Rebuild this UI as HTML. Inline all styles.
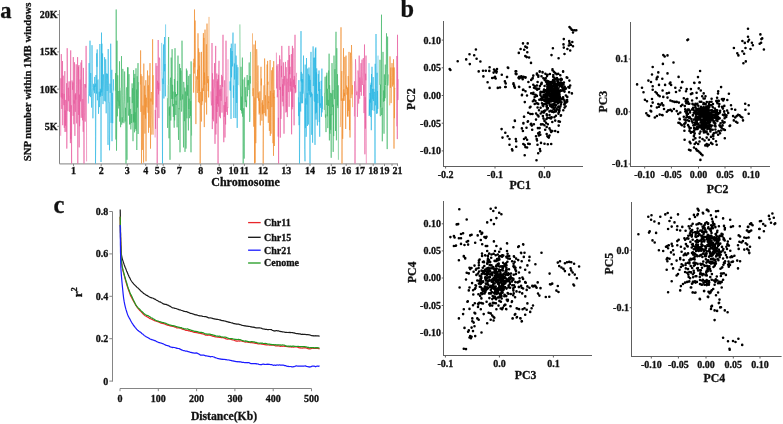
<!DOCTYPE html>
<html><head><meta charset="utf-8"><style>
html,body{margin:0;padding:0;background:#fff;}
svg{display:block;will-change:transform;}
text{font-family:"Liberation Serif",serif;font-weight:bold;fill:#111;stroke:#111;stroke-width:0.3px;}
</style></head><body>
<svg width="783" height="424" viewBox="0 0 783 424">
<text x="0.2" y="18.3" font-size="22.5" text-anchor="start">a</text>
<text x="31.5" y="161.2" font-size="10.75" text-anchor="start" transform="rotate(-90 31.5 161.2)">SNP number within 1MB windows</text>
<line x1="59.5" y1="10" x2="59.5" y2="163.9" stroke="#858585" stroke-width="1"/>
<line x1="59.5" y1="163.9" x2="398" y2="163.9" stroke="#9a9a9a" stroke-width="1.2"/>
<line x1="57.2" y1="14.699999999999989" x2="59.5" y2="14.699999999999989" stroke="#858585" stroke-width="1"/>
<text x="57.6" y="18.099999999999987" font-size="10" text-anchor="end">20K</text>
<line x1="57.2" y1="51.89999999999999" x2="59.5" y2="51.89999999999999" stroke="#858585" stroke-width="1"/>
<text x="57.6" y="55.29999999999999" font-size="10" text-anchor="end">15K</text>
<line x1="57.2" y1="89.1" x2="59.5" y2="89.1" stroke="#858585" stroke-width="1"/>
<text x="57.6" y="92.5" font-size="10" text-anchor="end">10K</text>
<line x1="57.2" y1="126.3" x2="59.5" y2="126.3" stroke="#858585" stroke-width="1"/>
<text x="57.6" y="129.7" font-size="10" text-anchor="end">5K</text>
<path d="M60.7 135.8 L60.9 78.3 L61.2 97.3 L61.3 54.1 L61.6 104.6 L61.8 108.9 L62.1 93.1 L62.3 98.8 L62.5 61.0 L62.7 125.2 L63.0 81.7 L63.2 75.7 L63.4 88.2 L63.6 98.8 L63.9 105.2 L64.1 93.8 L64.3 127.9 L64.5 99.1 L64.8 71.1 L65.0 131.9 L65.2 110.5 L65.4 125.7 L65.7 99.9 L65.9 110.0 L66.1 131.8 L66.3 120.2 L66.6 83.2 L66.8 148.6 L67.0 128.0 L67.2 48.2 L67.5 87.3 L67.7 100.1 L67.9 111.2 L68.1 96.5 L68.4 87.7 L68.6 101.2 L68.8 91.5 L69.0 81.4 L69.3 98.2 L69.5 111.8 L69.7 97.2 L69.9 95.1 L70.2 81.4 L70.4 143.1 L70.7 50.4 L70.8 139.2 L71.1 130.5 L71.3 105.3 L71.6 163.5 L71.7 109.3 L72.0 80.5 L72.2 82.1 L72.4 85.4 L72.6 89.8 L72.9 82.3 L73.1 115.8 L73.3 57.1 L73.5 88.8 L73.8 124.2 L74.0 100.3 L74.2 103.6 L74.5 62.3 L74.7 103.5 L74.9 135.9 L75.1 94.5 L75.3 111.8 L75.6 93.3 L75.8 99.6 L76.0 91.9 L76.2 64.3 L76.5 84.3 L76.7 123.4 L76.9 99.0 L77.1 89.6 L77.4 77.5 L77.6 57.1 L77.8 163.5 L78.0 89.9 L78.3 89.9 L78.5 66.6 L78.7 114.9 L78.9 65.0 L79.2 147.4 L79.4 94.6 L79.6 126.2 L79.8 118.9 L80.1 79.5 L80.3 85.0 L80.5 101.4 L80.7 76.6 L81.0 62.5 L81.2 117.8 L81.4 113.0 L81.7 60.1 L81.9 73.2 L82.1 86.4 L82.3 107.8 L82.5 120.3 L82.8 99.1 L83.0 102.6 L83.2 131.8 L83.4 67.9 L83.7 94.0 L84.0 163.5 L84.1 122.9 L84.3 120.3 L84.6 112.2 L84.8 84.0 L85.0 98.6 L85.2 121.6 L85.5 84.4 L85.7 87.5 L85.9 63.9 L86.1 45.9 L86.4 70.6 L86.6 161.4" fill="none" stroke="#e8589c" stroke-width="0.6" stroke-opacity="1" stroke-linejoin="miter"/>
<path d="M88.4 103.5 L88.6 93.8 L88.9 82.7 L89.1 63.1 L89.3 74.2 L89.5 95.8 L89.8 85.0 L90.0 40.7 L90.2 82.6 L90.4 97.1 L90.7 73.0 L90.9 80.5 L91.1 88.4 L91.3 91.4 L91.6 107.6 L91.8 79.9 L92.0 45.2 L92.2 63.8 L92.5 87.5 L92.7 96.6 L92.9 118.3 L93.1 107.7 L93.4 92.5 L93.6 83.8 L93.8 87.8 L94.0 90.4 L94.2 85.5 L94.5 93.2 L94.7 76.9 L94.9 86.3 L95.2 86.8 L95.4 83.6 L95.5 163.5 L95.8 136.4 L96.0 75.0 L96.3 83.4 L96.5 93.6 L96.7 53.3 L97.0 66.8 L97.2 49.4 L97.4 100.3 L97.6 90.5 L97.8 80.2 L98.1 79.6 L98.3 95.7 L98.5 113.8 L98.8 100.5 L99.0 99.1 L99.2 91.8 L99.4 107.1 L99.7 90.6 L99.9 44.0 L100.1 96.9 L100.3 88.8 L100.5 95.4 L100.8 90.4 L101.0 162.0 L101.2 113.1 L101.5 32.6 L101.7 92.4 L101.9 43.7 L102.1 96.0 L102.3 90.8 L102.6 53.4 L102.8 92.5 L103.0 104.1 L103.2 95.5 L103.5 74.4 L103.7 81.3 L103.9 87.7 L104.2 100.9 L104.4 91.5 L104.6 57.2 L104.8 66.6 L105.0 70.5 L105.3 101.5 L105.5 83.1 L105.7 59.3 L105.9 70.7 L106.2 113.3 L106.4 73.5 L106.6 75.7 L106.8 85.5 L107.1 91.0 L107.3 87.3 L107.5 73.8 L107.8 80.5 L108.0 144.9 L108.2 49.1 L108.4 85.5 L108.6 91.4 L108.9 102.3 L109.1 102.1 L109.3 103.0 L109.5 150.3 L109.8 132.9 L110.0 83.7 L110.2 92.8 L110.4 78.5 L110.7 43.7 L111.0 70.5 L111.1 122.9 L111.3 102.8 L111.6 87.8 L111.8 69.8 L112.0 141.2 L112.2 93.0 L112.5 100.8 L112.7 123.2 L112.9 92.3 L113.1 91.8 L113.4 79.3 L113.6 90.5" fill="none" stroke="#27b5e2" stroke-width="0.6" stroke-opacity="1" stroke-linejoin="miter"/>
<path d="M115.4 90.7 L115.6 73.1 L115.9 139.5 L116.1 103.8 L116.2 9.5 L116.5 150.7 L116.8 122.9 L117.0 40.7 L117.2 102.6 L117.4 116.3 L117.7 75.3 L117.9 94.0 L118.1 101.3 L118.3 91.0 L118.6 107.0 L118.8 108.5 L119.0 100.7 L119.2 105.9 L119.5 61.3 L119.7 121.6 L119.9 90.7 L120.1 95.0 L120.4 111.0 L120.6 127.2 L120.8 103.6 L121.0 88.3 L121.3 87.3 L121.5 56.1 L121.7 124.6 L121.9 122.3 L122.2 117.3 L122.4 122.6 L122.6 95.2 L122.8 68.9 L123.1 73.2 L123.3 99.9 L123.5 118.5 L123.7 122.5 L124.0 123.2 L124.2 104.1 L124.4 101.5 L124.6 71.5 L124.9 89.5 L125.1 121.6 L125.3 118.4 L125.5 107.8 L125.8 126.0 L126.0 163.5 L126.2 95.8 L126.4 88.8 L126.7 87.3 L127.0 159.8 L127.1 108.5 L127.3 92.3 L127.6 67.3 L127.8 102.6 L128.0 67.4 L128.2 107.2 L128.5 115.6 L128.7 109.2 L129.0 74.2 L129.1 98.3 L129.4 102.6 L129.6 124.5 L129.8 96.9 L130.0 124.0 L130.3 108.9 L130.5 120.4 L130.7 129.1 L130.9 129.4 L131.2 125.4 L131.4 114.1 L131.6 123.0 L131.8 107.7 L132.1 83.4 L132.3 103.1 L132.5 88.2 L132.7 98.2 L133.0 141.2 L133.2 113.9 L133.4 122.4 L133.6 70.1 L133.9 121.4 L134.0 77.9 L134.3 95.1 L134.5 132.3 L134.8 73.9 L135.0 122.7 L135.2 112.3 L135.4 122.1 L135.7 129.0 L136.0 68.3 L136.1 130.7 L136.3 106.1 L136.6 89.5 L136.8 150.0 L137.0 112.2 L137.2 76.3 L137.5 107.6 L137.7 95.5 L138.0 63.1 L138.1 134.0 L138.4 99.2 L138.6 82.1" fill="none" stroke="#3db565" stroke-width="0.6" stroke-opacity="1" stroke-linejoin="miter"/>
<path d="M140.4 84.6 L140.6 50.4 L140.9 111.9 L141.0 74.2 L141.3 95.2 L141.5 163.5 L141.8 108.9 L142.0 76.2 L142.2 81.3 L142.4 149.9 L142.7 106.6 L142.9 105.6 L143.1 105.9 L143.3 111.0 L143.6 162.6 L143.8 63.6 L144.0 114.8 L144.2 111.1 L144.5 85.7 L144.7 116.1 L144.9 133.6 L145.2 94.9 L145.4 110.6 L145.6 118.6 L145.8 80.2 L146.0 161.3 L146.3 97.7 L146.5 97.8 L146.7 106.2 L147.0 107.3 L147.2 100.5 L147.5 70.5 L147.6 85.2 L147.9 109.9 L148.1 112.8 L148.3 85.2 L148.5 132.7 L148.8 100.0 L149.0 75.5 L149.2 127.7 L149.5 106.0 L149.7 85.6 L150.0 63.1 L150.1 84.5 L150.4 114.8 L150.5 148.6 L150.8 98.5 L151.0 101.5 L151.3 92.0 L151.5 110.9 L151.7 119.9 L151.9 134.6 L152.2 128.4 L152.4 125.0 L152.6 39.3 L152.8 104.6 L153.1 75.2 L153.3 134.7" fill="none" stroke="#f08c2a" stroke-width="0.6" stroke-opacity="1" stroke-linejoin="miter"/>
<path d="M155.1 137.5 L155.3 109.9 L155.6 128.8 L155.8 65.5 L156.0 63.1 L156.3 107.4 L156.5 89.8 L156.8 81.1 L157.0 65.8 L157.2 163.5 L157.5 80.8 L157.7 85.7 L158.0 89.0 L158.2 40.0 L158.5 94.3 L158.7 82.7 L158.9 118.1 L159.2 57.5 L159.5 59.3 L159.7 58.7 L159.9 90.9" fill="none" stroke="#e8589c" stroke-width="0.6" stroke-opacity="1" stroke-linejoin="miter"/>
<path d="M161.7 42.9 L161.9 71.5 L162.2 87.8 L162.5 163.5 L162.7 78.6 L162.9 80.6 L163.2 84.1 L163.5 44.5 L163.7 75.6 L163.9 98.5 L164.1 65.0 L164.5 37.0 L164.6 71.3 L164.9 64.0 L165.1 82.6 L165.4 96.3 L165.6 24.4" fill="none" stroke="#27b5e2" stroke-width="0.6" stroke-opacity="1" stroke-linejoin="miter"/>
<path d="M167.4 98.2 L167.6 127.9 L167.9 114.2 L168.1 85.3 L168.3 84.8 L168.6 37.0 L168.8 85.3 L169.0 138.3 L169.2 107.4 L169.4 115.6 L169.7 106.4 L170.0 159.8 L170.1 94.5 L170.3 79.6 L170.6 77.7 L170.8 120.5 L171.0 97.4 L171.2 57.6 L171.5 89.5 L171.7 98.9 L172.0 63.1 L172.1 49.2 L172.4 106.3 L172.6 84.8 L172.8 98.9 L173.1 91.6 L173.3 116.9 L173.5 104.0 L173.7 112.6 L174.0 115.1 L174.2 127.7 L174.4 79.0 L174.6 120.4 L174.9 95.5 L175.0 48.2 L175.3 97.1 L175.5 92.2 L175.8 115.0 L176.0 100.7 L176.2 105.0 L176.4 94.4 L176.7 95.8 L176.9 94.0 L177.1 127.3 L177.4 80.9 L177.6 94.9 L177.8 72.3 L178.0 55.6 L178.3 123.5 L178.5 139.9 L178.7 117.5 L178.9 108.2 L179.2 109.3 L179.4 97.3 L179.6 63.9 L179.8 115.0 L180.0 152.3 L180.3 101.4 L180.5 68.1 L180.7 100.3 L181.0 70.6 L181.2 95.6 L181.4 97.0 L181.6 111.6 L181.9 107.1 L182.0 40.7 L182.3 91.0 L182.6 99.4 L182.8 94.4 L183.0 97.5 L183.2 123.1 L183.5 147.4 L183.7 81.9 L183.9 84.5 L184.1 96.5 L184.4 121.0 L184.6 121.2 L184.8 87.6 L185.0 151.9 L185.3 111.9 L185.5 91.5 L185.7 95.7 L186.0 148.6 L186.2 140.9 L186.4 68.6 L186.6 105.0 L186.9 118.3 L187.0 70.5 L187.3 81.5 L187.5 95.7 L187.8 85.1 L188.0 102.7 L188.2 115.5 L188.4 130.4 L188.7 75.9 L188.9 109.0 L189.1 98.7 L189.3 114.1 L189.6 118.2 L189.8 107.1 L190.0 74.2 L190.2 91.6 L190.5 115.9 L190.7 101.1 L191.0 152.3 L191.1 61.4 L191.4 99.5 L191.6 135.6" fill="none" stroke="#3db565" stroke-width="0.6" stroke-opacity="1" stroke-linejoin="miter"/>
<path d="M193.4 62.8 L193.6 92.6 L193.9 58.8 L194.1 69.6 L194.3 73.5 L194.5 9.5 L194.8 67.3 L195.0 20.7 L195.2 20.7 L195.4 80.5 L195.7 99.7 L195.9 124.1 L196.1 98.7 L196.4 76.6 L196.6 76.3 L196.8 79.8 L197.0 87.2 L197.3 93.0 L197.5 69.7 L197.7 79.4 L198.0 33.3 L198.2 78.9 L198.4 102.2 L198.6 48.4 L198.9 70.6 L199.1 90.9 L199.3 65.7 L199.5 103.2 L199.8 52.2 L200.0 100.2 L200.2 163.5 L200.5 102.5 L200.7 91.9 L200.9 93.0 L201.1 100.5 L201.4 121.5 L201.5 51.9 L201.8 105.1 L202.0 103.8 L202.3 88.3 L202.5 101.2 L202.7 88.3 L203.0 79.6 L203.2 51.2 L203.4 33.1 L203.6 91.0 L203.9 37.9 L204.1 86.9 L204.3 127.1 L204.5 72.6 L204.8 84.8 L205.0 29.6 L205.2 79.4 L205.5 97.7 L205.7 99.2 L205.9 102.5 L206.1 76.5 L206.4 44.3 L206.6 114.5 L206.8 81.0 L207.0 23.6 L207.3 51.2 L207.5 83.1 L207.7 82.2 L208.0 76.0 L208.2 91.1 L208.4 79.3 L208.6 97.4 L208.9 76.4 L209.0 16.9" fill="none" stroke="#f08c2a" stroke-width="0.6" stroke-opacity="1" stroke-linejoin="miter"/>
<path d="M210.9 91.4 L211.1 99.2 L211.4 105.4 L211.6 105.0 L211.8 103.0 L212.0 43.0 L212.3 129.1 L212.5 73.3 L212.7 119.3 L212.9 109.2 L213.2 79.5 L213.4 97.9 L213.6 121.3 L213.8 88.8 L214.1 88.1 L214.3 86.4 L214.5 63.1 L214.7 105.5 L215.0 143.8 L215.2 106.2 L215.4 83.5 L215.7 45.9 L215.9 134.5 L216.1 101.5 L216.3 96.2 L216.6 123.4 L216.8 73.5 L217.0 112.0 L217.2 81.2 L217.5 103.9 L217.7 79.3 L218.0 163.5 L218.1 163.5 L218.4 74.8 L218.6 106.6 L218.8 68.9 L219.0 60.8 L219.3 100.6 L219.5 116.5 L219.7 89.6 L220.0 96.2 L220.2 85.0 L220.4 118.2 L220.6 109.5 L220.9 88.9 L221.1 100.8 L221.3 90.9 L221.5 74.9 L221.8 76.1 L222.0 112.6 L222.2 76.4 L222.4 84.5 L222.7 86.9 L223.0 34.8 L223.1 75.4 L223.3 114.2 L223.6 124.8 L223.8 142.2 L224.0 105.2 L224.3 116.9 L224.5 115.0 L224.7 80.3 L225.0 137.5 L225.2 102.0 L225.4 102.1 L225.6 124.5 L225.8 99.5 L226.0 40.7 L226.3 111.9 L226.5 98.1 L226.7 97.5 L227.0 96.6 L227.2 105.1 L227.4 114.9 L227.6 107.4 L227.9 107.9 L228.0 59.3" fill="none" stroke="#e8589c" stroke-width="0.6" stroke-opacity="1" stroke-linejoin="miter"/>
<path d="M229.9 90.2 L230.1 81.4 L230.4 90.7 L230.5 48.2 L230.8 75.2 L231.0 118.9 L231.3 43.7 L231.5 77.3 L231.8 52.3 L232.0 50.9 L232.2 51.0 L232.5 66.4 L232.7 50.5 L233.0 32.6 L233.2 91.0 L233.4 97.9 L233.6 85.5 L233.9 118.0 L234.1 91.6 L234.4 63.5 L234.6 79.4 L234.8 61.8 L235.1 43.7 L235.3 64.7 L235.5 87.8 L235.8 118.1 L236.0 55.6 L236.2 56.5 L236.5 80.9 L236.7 102.9 L236.9 64.8 L237.2 127.9 L237.4 100.0 L237.6 79.1 L237.9 67.2 L238.1 85.1" fill="none" stroke="#27b5e2" stroke-width="0.6" stroke-opacity="1" stroke-linejoin="miter"/>
<path d="M239.9 24.4 L240.1 84.2 L240.4 88.0 L240.6 110.1 L240.8 92.8 L241.0 66.8 L241.3 95.2 L241.5 111.0 L241.7 96.6 L241.9 113.5 L242.2 86.1 L242.4 57.6 L242.6 116.7 L242.9 79.5 L243.2 163.5 L243.3 119.8 L243.5 113.9 L243.8 108.2 L244.0 115.1 L244.2 158.6 L244.5 84.0 L244.7 77.4 L244.9 90.9 L245.1 98.8 L245.4 102.1 L245.6 90.3 L245.8 87.1 L246.0 106.6 L246.3 100.4 L246.5 107.2 L246.7 103.5 L247.0 77.9 L247.2 75.0 L247.4 96.3 L247.6 93.7 L247.9 80.2 L248.1 85.4 L248.3 80.3 L248.6 80.2 L248.8 90.0 L249.0 87.8 L249.2 62.5 L249.5 94.5 L249.7 121.9 L249.9 117.5 L250.1 76.0 L250.4 83.5 L250.5 51.9" fill="none" stroke="#3db565" stroke-width="0.6" stroke-opacity="1" stroke-linejoin="miter"/>
<path d="M252.5 33.3 L252.6 91.6 L252.9 96.2 L253.1 88.6 L253.3 88.2 L253.5 112.2 L253.8 126.7 L254.0 44.5 L254.2 97.1 L254.4 116.2 L254.6 163.5 L254.9 97.5 L255.1 162.8 L255.3 109.3 L255.5 40.7 L255.8 143.2 L256.0 121.1 L256.3 98.6 L256.5 81.7 L256.7 49.2 L257.0 59.3 L257.2 98.2 L257.4 95.6 L257.6 82.8 L257.8 65.8 L258.1 65.5 L258.3 80.6 L258.5 100.7 L258.7 92.4 L259.0 112.0 L259.2 114.5 L259.4 98.4 L259.6 113.0 L259.9 91.3 L260.1 106.3 L260.3 125.4 L260.6 102.1 L260.8 73.8 L261.0 66.8 L261.2 85.4 L261.5 78.6 L261.7 105.7 L261.9 120.7 L262.1 102.6 L262.4 114.3 L262.6 100.2 L262.8 113.2 L263.0 105.1 L263.2 163.5 L263.5 125.5 L263.7 103.5 L264.0 85.4 L264.2 113.1 L264.4 96.5 L264.6 58.5 L264.9 83.7 L265.1 84.5 L265.3 115.4 L265.5 95.3 L265.8 102.8 L266.0 116.4 L266.2 107.3 L266.4 107.4 L266.7 90.9 L266.9 85.6 L267.1 64.5 L267.4 109.2 L267.6 60.9 L267.8 84.8 L268.0 81.7 L268.3 122.8 L268.5 101.5 L268.7 103.0 L268.9 96.1 L269.2 109.7 L269.4 130.9 L269.6 101.5 L269.8 89.7 L270.1 60.0 L270.3 135.9 L270.5 90.9 L270.7 109.1 L271.0 133.7 L271.2 121.5 L271.4 89.4 L271.7 70.3 L271.9 107.1 L272.1 98.5 L272.3 86.6 L272.6 67.4 L272.8 126.9 L273.0 143.2 L273.2 93.1 L273.5 155.8 L273.7 61.1 L273.9 98.2 L274.1 90.2 L274.4 146.0 L274.6 96.7" fill="none" stroke="#f08c2a" stroke-width="0.6" stroke-opacity="1" stroke-linejoin="miter"/>
<path d="M276.4 52.6 L276.6 88.4 L276.9 65.6 L277.0 66.8 L277.3 97.3 L277.5 93.6 L277.8 75.2 L278.0 64.1 L278.2 136.6 L278.4 117.8 L278.6 163.5 L278.9 73.5 L279.1 70.6 L279.4 70.7 L279.6 55.4 L279.8 89.9 L280.0 59.3 L280.3 137.6 L280.5 86.9 L280.7 107.8 L280.9 118.9 L281.2 112.7 L281.4 65.8 L281.6 77.2 L281.8 45.9 L282.1 64.9 L282.3 101.7 L282.5 84.4 L282.8 95.9 L283.0 79.0 L283.2 106.3 L283.4 62.4 L283.7 97.8 L284.0 133.7 L284.1 128.2 L284.3 84.4 L284.6 76.0 L284.8 85.5 L285.0 74.2 L285.3 63.8 L285.5 61.9 L285.7 103.4 L285.9 112.5 L286.2 67.2 L286.4 82.0 L286.6 111.8 L286.8 89.5 L287.1 78.7 L287.3 117.1 L287.5 82.7 L287.7 83.1 L288.0 60.2 L288.2 71.6 L288.4 72.3 L288.7 92.1 L288.9 45.9 L289.1 106.8 L289.3 82.0 L289.6 55.0 L289.8 74.3 L290.0 66.8 L290.2 85.9 L290.5 78.4 L290.7 91.6 L290.9 81.7 L291.2 90.3 L291.4 54.1 L291.6 134.3 L291.8 89.4 L292.1 109.3 L292.3 45.9 L292.5 45.9 L292.7 107.0 L293.0 48.2 L293.2 87.0 L293.4 85.8 L293.6 79.6 L293.9 96.9 L294.1 125.3 L294.3 75.9 L294.6 88.4 L294.8 76.8 L295.0 34.8 L295.2 93.2 L295.5 85.1 L295.7 91.5 L295.9 92.3 L296.1 86.5 L296.4 77.2 L296.6 72.8" fill="none" stroke="#e8589c" stroke-width="0.6" stroke-opacity="1" stroke-linejoin="miter"/>
<path d="M298.4 97.3 L298.6 116.1 L298.9 80.1 L299.1 125.2 L299.3 102.4 L299.5 163.5 L299.8 124.9 L300.0 100.7 L300.2 91.7 L300.4 96.7 L300.7 111.5 L301.0 31.1 L301.1 81.3 L301.3 71.9 L301.6 103.3 L301.8 79.0 L302.0 82.5 L302.2 73.7 L302.5 103.2 L302.7 79.2 L302.9 93.7 L303.1 90.0 L303.4 73.8 L303.5 55.6 L303.8 90.7 L304.1 93.8 L304.3 102.2 L304.5 105.7 L304.7 149.6 L305.0 161.3 L305.2 64.6 L305.4 128.1 L305.6 98.4 L305.9 106.9 L306.1 136.8 L306.3 134.2 L306.5 58.0 L306.8 104.5 L307.0 97.4 L307.2 92.9 L307.4 126.0 L307.7 68.6 L307.9 88.7 L308.1 93.3 L308.4 124.5 L308.6 74.2 L308.8 90.8 L309.0 67.5 L309.3 94.7 L309.5 76.9 L309.7 75.6 L310.0 163.5 L310.2 79.9 L310.4 88.4 L310.6 97.3 L310.8 61.3 L311.0 51.9 L311.3 96.4 L311.5 92.4 L311.7 134.8 L312.0 119.4 L312.2 93.7 L312.4 105.9 L312.6 142.7 L312.9 93.4 L313.1 46.4 L313.3 86.0 L313.6 81.9 L313.8 57.8 L314.0 77.9 L314.2 100.2 L314.5 101.6 L314.7 57.6 L315.0 144.9 L315.1 53.8 L315.4 48.5 L315.6 113.5 L315.8 47.4 L316.0 119.6 L316.3 72.4 L316.5 112.6 L316.7 68.4 L316.9 104.4 L317.2 119.5 L317.4 125.5 L317.6 93.9 L317.9 103.1 L318.1 99.3 L318.3 74.1 L318.5 91.0 L318.8 88.3 L319.0 70.5 L319.2 122.1 L319.4 81.9 L319.7 136.7 L319.9 89.0 L320.1 105.5 L320.3 103.4 L320.6 107.8 L320.8 106.6 L321.0 101.0 L321.2 80.8 L321.5 116.8 L321.7 90.1 L321.9 68.6 L322.1 112.4 L322.4 96.3 L322.6 109.0" fill="none" stroke="#27b5e2" stroke-width="0.6" stroke-opacity="1" stroke-linejoin="miter"/>
<path d="M324.4 110.1 L324.6 93.3 L324.9 93.4 L325.1 76.8 L325.3 116.1 L325.5 117.6 L325.8 114.4 L326.0 132.1 L326.2 88.7 L326.4 75.6 L326.7 105.1 L326.9 72.7 L327.0 81.7 L327.3 116.3 L327.6 88.8 L327.8 128.1 L328.0 118.8 L328.2 99.9 L328.5 105.8 L328.7 70.5 L328.9 88.8 L329.1 53.7 L329.4 140.4 L329.6 85.2 L329.8 90.5 L330.0 133.7 L330.3 103.0 L330.5 92.9 L330.7 129.8 L330.9 114.3 L331.2 157.8 L331.4 97.5 L331.6 93.4 L331.9 115.2 L332.0 63.1 L332.3 91.3 L332.5 106.9 L332.8 93.2 L333.0 90.1 L333.2 151.9 L333.4 104.7 L333.7 136.1 L333.9 89.0 L334.0 55.6 L334.3 87.6 L334.6 99.1 L334.8 70.1 L335.0 69.2 L335.2 95.5 L335.5 131.0 L335.7 63.7 L336.0 31.8 L336.1 84.2 L336.4 140.3 L336.6 99.2 L336.8 48.2 L337.0 85.1 L337.3 105.5 L337.5 74.2 L337.7 88.3 L337.9 108.1 L338.2 85.3 L338.4 159.8" fill="none" stroke="#3db565" stroke-width="0.6" stroke-opacity="1" stroke-linejoin="miter"/>
<path d="M340.2 127.1 L340.4 125.9 L340.7 104.9 L341.0 27.3 L341.1 94.1 L341.3 100.8 L341.6 78.5 L341.8 71.1 L342.0 163.5 L342.3 98.4 L342.5 101.2 L342.7 138.8 L343.0 104.4 L343.2 88.5 L343.5 48.2 L343.6 100.8 L343.9 89.4 L344.1 100.8 L344.3 92.9 L344.6 96.2 L344.8 56.9 L345.0 73.9 L345.3 75.6 L345.5 102.9 L345.7 129.0 L346.0 55.6 L346.2 85.4 L346.4 88.7 L346.6 85.6 L346.9 94.7 L347.1 91.5 L347.3 87.3 L347.5 116.4 L347.8 88.4 L348.0 116.6 L348.2 76.1 L348.5 86.8 L348.7 110.9 L349.0 51.9 L349.2 103.2 L349.4 109.4 L349.6 130.1 L349.8 99.7 L350.0 137.5 L350.3 87.7 L350.5 52.7 L350.8 70.3 L351.0 98.2 L351.2 96.4 L351.5 45.0 L351.7 55.4 L352.0 63.1 L352.1 94.4 L352.4 85.2 L352.6 107.2" fill="none" stroke="#f08c2a" stroke-width="0.6" stroke-opacity="1" stroke-linejoin="miter"/>
<path d="M354.4 116.4 L354.6 81.3 L354.9 90.9 L355.0 163.5 L355.3 91.3 L355.5 59.3 L355.8 69.1 L356.0 84.0 L356.2 89.7 L356.5 94.0 L356.7 95.2 L356.9 91.5 L357.1 91.6 L357.4 116.9 L357.6 107.1 L357.8 97.8 L358.0 70.5 L358.3 75.0 L358.5 97.3 L358.7 103.6 L359.0 85.4 L359.2 55.6 L359.4 95.2 L359.7 98.7 L359.9 77.5 L360.1 90.0 L360.4 91.9 L360.6 78.8 L360.8 69.4 L361.0 63.1 L361.3 95.7 L361.5 92.3 L361.7 71.7 L362.0 59.6 L362.2 83.6 L362.4 85.0 L362.6 80.1 L362.9 75.7 L363.1 66.4 L363.3 58.1 L363.6 96.0 L363.8 84.7 L364.0 113.1 L364.2 94.0 L364.5 44.5 L364.7 113.1 L364.9 154.3 L365.2 97.2 L365.4 128.6 L365.6 73.7 L365.8 80.3 L366.0 55.6 L366.3 163.5" fill="none" stroke="#e8589c" stroke-width="0.6" stroke-opacity="1" stroke-linejoin="miter"/>
<path d="M369.0 63.1 L369.2 116.0 L369.5 99.5 L369.7 114.8 L369.9 93.0 L370.2 96.2 L370.4 102.7 L370.6 84.8 L370.8 117.0 L371.1 82.7 L371.3 130.2 L371.5 74.0 L371.8 86.8 L372.0 66.8 L372.2 110.2 L372.5 88.9 L372.7 97.0 L372.9 99.3 L373.2 77.1 L373.4 99.2 L373.6 101.0 L373.8 88.8 L374.1 110.8 L374.3 93.0 L374.5 91.9 L374.8 93.8 L375.0 163.5 L375.2 63.8 L375.5 105.3 L375.7 100.6 L376.0 34.0 L376.2 65.1 L376.4 85.4 L376.6 113.8 L376.8 89.7 L377.1 72.8 L377.3 113.4 L377.5 91.0 L377.8 108.9 L378.0 55.6" fill="none" stroke="#27b5e2" stroke-width="0.6" stroke-opacity="1" stroke-linejoin="miter"/>
<path d="M379.8 84.9 L380.0 59.8 L380.3 116.2 L380.5 84.6 L380.7 107.2 L380.9 97.5 L381.2 80.0 L381.5 14.7 L381.6 115.1 L381.9 109.4 L382.1 107.7 L382.3 141.3 L382.6 98.5 L382.8 98.6 L383.0 51.9 L383.2 95.2 L383.5 101.7 L383.7 90.5 L384.0 133.7 L384.2 102.5 L384.4 74.4 L384.6 101.1 L384.9 85.9 L385.1 98.2 L385.3 64.6 L385.5 85.2 L385.8 80.5 L386.0 73.2 L386.2 69.4 L386.5 33.3 L386.7 79.5 L386.9 97.2 L387.2 149.1 L387.4 69.8 L387.6 36.6 L387.8 85.5 L388.1 81.5 L388.3 74.4" fill="none" stroke="#3db565" stroke-width="0.6" stroke-opacity="1" stroke-linejoin="miter"/>
<path d="M389.7 105.4 L390.0 56.4 L390.2 67.5 L390.4 87.8 L390.6 73.0 L390.9 67.5 L391.1 103.1 L391.4 77.5 L391.6 77.3 L391.8 75.6 L392.0 63.1 L392.3 77.9 L392.5 86.5 L392.8 81.4 L393.0 67.5 L393.2 84.6 L393.5 59.3 L393.7 67.5 L394.0 148.6 L394.2 67.5 L394.4 118.2 L394.7 87.9 L394.9 88.5" fill="none" stroke="#f08c2a" stroke-width="0.6" stroke-opacity="1" stroke-linejoin="miter"/>
<path d="M396.7 126.3 L396.9 56.0 L397.1 74.9 L397.3 139.1 L397.5 34.8 L397.8 100.1 L398.0 98.8 L398.2 79.2" fill="none" stroke="#e8589c" stroke-width="0.6" stroke-opacity="1" stroke-linejoin="miter"/>
<line x1="73.5" y1="163.9" x2="73.5" y2="165.9" stroke="#858585" stroke-width="1"/>
<text x="73.5" y="173.8" font-size="10" text-anchor="middle">1</text>
<line x1="101.2" y1="163.9" x2="101.2" y2="165.9" stroke="#858585" stroke-width="1"/>
<text x="101.2" y="173.8" font-size="10" text-anchor="middle">2</text>
<line x1="127.2" y1="163.9" x2="127.2" y2="165.9" stroke="#858585" stroke-width="1"/>
<text x="127.2" y="173.8" font-size="10" text-anchor="middle">3</text>
<line x1="145.7" y1="163.9" x2="145.7" y2="165.9" stroke="#858585" stroke-width="1"/>
<text x="145.7" y="173.8" font-size="10" text-anchor="middle">4</text>
<line x1="157.2" y1="163.9" x2="157.2" y2="165.9" stroke="#858585" stroke-width="1"/>
<text x="157.2" y="173.8" font-size="10" text-anchor="middle">5</text>
<line x1="163.2" y1="163.9" x2="163.2" y2="165.9" stroke="#858585" stroke-width="1"/>
<text x="163.2" y="173.8" font-size="10" text-anchor="middle">6</text>
<line x1="179.3" y1="163.9" x2="179.3" y2="165.9" stroke="#858585" stroke-width="1"/>
<text x="179.3" y="173.8" font-size="10" text-anchor="middle">7</text>
<line x1="200.7" y1="163.9" x2="200.7" y2="165.9" stroke="#858585" stroke-width="1"/>
<text x="200.7" y="173.8" font-size="10" text-anchor="middle">8</text>
<line x1="219.2" y1="163.9" x2="219.2" y2="165.9" stroke="#858585" stroke-width="1"/>
<text x="219.2" y="173.8" font-size="10" text-anchor="middle">9</text>
<line x1="233.6" y1="163.9" x2="233.6" y2="165.9" stroke="#858585" stroke-width="1"/>
<text x="233.6" y="173.8" font-size="10" text-anchor="middle">10</text>
<line x1="244.4" y1="163.9" x2="244.4" y2="165.9" stroke="#858585" stroke-width="1"/>
<text x="244.4" y="173.8" font-size="10" text-anchor="middle">11</text>
<line x1="263" y1="163.9" x2="263" y2="165.9" stroke="#858585" stroke-width="1"/>
<text x="263" y="173.8" font-size="10" text-anchor="middle">12</text>
<line x1="286.3" y1="163.9" x2="286.3" y2="165.9" stroke="#858585" stroke-width="1"/>
<text x="286.3" y="173.8" font-size="10" text-anchor="middle">13</text>
<line x1="310" y1="163.9" x2="310" y2="165.9" stroke="#858585" stroke-width="1"/>
<text x="310" y="173.8" font-size="10" text-anchor="middle">14</text>
<line x1="331.3" y1="163.9" x2="331.3" y2="165.9" stroke="#858585" stroke-width="1"/>
<text x="331.3" y="173.8" font-size="10" text-anchor="middle">15</text>
<line x1="346.2" y1="163.9" x2="346.2" y2="165.9" stroke="#858585" stroke-width="1"/>
<text x="346.2" y="173.8" font-size="10" text-anchor="middle">16</text>
<line x1="360" y1="163.9" x2="360" y2="165.9" stroke="#858585" stroke-width="1"/>
<text x="360" y="173.8" font-size="10" text-anchor="middle">17</text>
<line x1="373.2" y1="163.9" x2="373.2" y2="165.9" stroke="#858585" stroke-width="1"/>
<text x="373.2" y="173.8" font-size="10" text-anchor="middle">18</text>
<line x1="384.5" y1="163.9" x2="384.5" y2="165.9" stroke="#858585" stroke-width="1"/>
<text x="384.5" y="173.8" font-size="10" text-anchor="middle">19</text>
<line x1="392" y1="163.9" x2="392" y2="165.9" stroke="#858585" stroke-width="1"/>
<line x1="397.5" y1="163.9" x2="397.5" y2="165.9" stroke="#858585" stroke-width="1"/>
<text x="397.5" y="173.8" font-size="10" text-anchor="middle">21</text>
<text x="245.5" y="185.6" font-size="12" text-anchor="middle">Chromosome</text>
<text x="400.4" y="17.2" font-size="24.3" text-anchor="start">b</text>
<line x1="443.5" y1="21" x2="443.5" y2="167.0" stroke="#5e5e5e" stroke-width="1"/>
<line x1="443.0" y1="166.5" x2="583" y2="166.5" stroke="#5e5e5e" stroke-width="1"/>
<line x1="441.7" y1="40.1" x2="443.5" y2="40.1" stroke="#5e5e5e" stroke-width="1"/>
<text x="440.9" y="43.5" font-size="10" text-anchor="end">0.10</text>
<line x1="441.7" y1="67.8" x2="443.5" y2="67.8" stroke="#5e5e5e" stroke-width="1"/>
<text x="440.9" y="71.2" font-size="10" text-anchor="end">0.05</text>
<line x1="441.7" y1="95.5" x2="443.5" y2="95.5" stroke="#5e5e5e" stroke-width="1"/>
<text x="440.9" y="98.9" font-size="10" text-anchor="end">0.00</text>
<line x1="441.7" y1="123.2" x2="443.5" y2="123.2" stroke="#5e5e5e" stroke-width="1"/>
<text x="440.9" y="126.60000000000001" font-size="10" text-anchor="end">-0.05</text>
<line x1="441.7" y1="150.9" x2="443.5" y2="150.9" stroke="#5e5e5e" stroke-width="1"/>
<text x="440.9" y="154.3" font-size="10" text-anchor="end">-0.10</text>
<line x1="445.6" y1="166.5" x2="445.6" y2="168.5" stroke="#5e5e5e" stroke-width="1"/>
<text x="445.6" y="177.7" font-size="10" text-anchor="middle">-0.2</text>
<line x1="495" y1="166.5" x2="495" y2="168.5" stroke="#5e5e5e" stroke-width="1"/>
<text x="495" y="177.7" font-size="10" text-anchor="middle">-0.1</text>
<line x1="544.4" y1="166.5" x2="544.4" y2="168.5" stroke="#5e5e5e" stroke-width="1"/>
<text x="544.4" y="177.7" font-size="10" text-anchor="middle">0.0</text>
<text x="520.2" y="188.9" font-size="11.8" text-anchor="middle">PC1</text>
<text x="415.3" y="99.2" font-size="11.8" text-anchor="middle" transform="rotate(-90 415.3 99.2)">PC2</text>
<line x1="630.5" y1="22" x2="630.5" y2="167.0" stroke="#5e5e5e" stroke-width="1"/>
<line x1="630.0" y1="166.5" x2="770" y2="166.5" stroke="#5e5e5e" stroke-width="1"/>
<line x1="628.7" y1="59" x2="630.5" y2="59" stroke="#5e5e5e" stroke-width="1"/>
<text x="627.9" y="62.4" font-size="10" text-anchor="end">0.1</text>
<line x1="628.7" y1="111.8" x2="630.5" y2="111.8" stroke="#5e5e5e" stroke-width="1"/>
<text x="627.9" y="115.2" font-size="10" text-anchor="end">0.0</text>
<line x1="628.7" y1="164" x2="630.5" y2="164" stroke="#5e5e5e" stroke-width="1"/>
<text x="627.9" y="167.4" font-size="10" text-anchor="end">-0.1</text>
<line x1="644.7" y1="166.5" x2="644.7" y2="168.5" stroke="#5e5e5e" stroke-width="1"/>
<text x="644.7" y="177.7" font-size="10" text-anchor="middle">-0.10</text>
<line x1="671.4" y1="166.5" x2="671.4" y2="168.5" stroke="#5e5e5e" stroke-width="1"/>
<text x="671.4" y="177.7" font-size="10" text-anchor="middle">-0.05</text>
<line x1="698.5" y1="166.5" x2="698.5" y2="168.5" stroke="#5e5e5e" stroke-width="1"/>
<text x="698.5" y="177.7" font-size="10" text-anchor="middle">0.00</text>
<line x1="725" y1="166.5" x2="725" y2="168.5" stroke="#5e5e5e" stroke-width="1"/>
<text x="725" y="177.7" font-size="10" text-anchor="middle">0.05</text>
<line x1="751" y1="166.5" x2="751" y2="168.5" stroke="#5e5e5e" stroke-width="1"/>
<text x="751" y="177.7" font-size="10" text-anchor="middle">0.10</text>
<text x="717.6" y="193" font-size="11.8" text-anchor="middle">PC2</text>
<text x="606.9" y="101.6" font-size="11.8" text-anchor="middle" transform="rotate(-90 606.9 101.6)">PC3</text>
<line x1="443.5" y1="201" x2="443.5" y2="356.0" stroke="#5e5e5e" stroke-width="1"/>
<line x1="443.0" y1="355.5" x2="592" y2="355.5" stroke="#5e5e5e" stroke-width="1"/>
<line x1="441.7" y1="223.8" x2="443.5" y2="223.8" stroke="#5e5e5e" stroke-width="1"/>
<text x="440.9" y="227.20000000000002" font-size="10" text-anchor="end">0.10</text>
<line x1="441.7" y1="250.9" x2="443.5" y2="250.9" stroke="#5e5e5e" stroke-width="1"/>
<text x="440.9" y="254.3" font-size="10" text-anchor="end">0.05</text>
<line x1="441.7" y1="278" x2="443.5" y2="278" stroke="#5e5e5e" stroke-width="1"/>
<text x="440.9" y="281.4" font-size="10" text-anchor="end">0.00</text>
<line x1="441.7" y1="305.5" x2="443.5" y2="305.5" stroke="#5e5e5e" stroke-width="1"/>
<text x="440.9" y="308.9" font-size="10" text-anchor="end">-0.05</text>
<line x1="441.7" y1="333" x2="443.5" y2="333" stroke="#5e5e5e" stroke-width="1"/>
<text x="440.9" y="336.4" font-size="10" text-anchor="end">-0.10</text>
<line x1="445.4" y1="355.5" x2="445.4" y2="357.5" stroke="#5e5e5e" stroke-width="1"/>
<text x="445.4" y="366.7" font-size="10" text-anchor="middle">-0.1</text>
<line x1="499.4" y1="355.5" x2="499.4" y2="357.5" stroke="#5e5e5e" stroke-width="1"/>
<text x="499.4" y="366.7" font-size="10" text-anchor="middle">0.0</text>
<line x1="553.4" y1="355.5" x2="553.4" y2="357.5" stroke="#5e5e5e" stroke-width="1"/>
<text x="553.4" y="366.7" font-size="10" text-anchor="middle">0.1</text>
<text x="525.5" y="379.4" font-size="11.8" text-anchor="middle">PC3</text>
<text x="415.9" y="272.3" font-size="11.8" text-anchor="middle" transform="rotate(-90 415.9 272.3)">PC4</text>
<line x1="631.5" y1="202" x2="631.5" y2="357.0" stroke="#5e5e5e" stroke-width="1"/>
<line x1="631.0" y1="356.5" x2="781.6" y2="356.5" stroke="#5e5e5e" stroke-width="1"/>
<line x1="629.7" y1="250.2" x2="631.5" y2="250.2" stroke="#5e5e5e" stroke-width="1"/>
<text x="628.9" y="253.6" font-size="10" text-anchor="end">0.0</text>
<line x1="629.7" y1="307.7" x2="631.5" y2="307.7" stroke="#5e5e5e" stroke-width="1"/>
<text x="628.9" y="311.09999999999997" font-size="10" text-anchor="end">-0.1</text>
<line x1="651.3" y1="356.5" x2="651.3" y2="358.5" stroke="#5e5e5e" stroke-width="1"/>
<text x="651.3" y="367.7" font-size="10" text-anchor="middle">-0.10</text>
<line x1="678.4" y1="356.5" x2="678.4" y2="358.5" stroke="#5e5e5e" stroke-width="1"/>
<text x="678.4" y="367.7" font-size="10" text-anchor="middle">-0.05</text>
<line x1="706" y1="356.5" x2="706" y2="358.5" stroke="#5e5e5e" stroke-width="1"/>
<text x="706" y="367.7" font-size="10" text-anchor="middle">0.00</text>
<line x1="733.3" y1="356.5" x2="733.3" y2="358.5" stroke="#5e5e5e" stroke-width="1"/>
<text x="733.3" y="367.7" font-size="10" text-anchor="middle">0.05</text>
<line x1="760" y1="356.5" x2="760" y2="358.5" stroke="#5e5e5e" stroke-width="1"/>
<text x="760" y="367.7" font-size="10" text-anchor="middle">0.10</text>
<text x="714.4" y="381.5" font-size="11.8" text-anchor="middle">PC4</text>
<text x="613.1" y="263.6" font-size="11.8" text-anchor="middle" transform="rotate(-90 613.1 263.6)">PC5</text>
<path d="M449.7 69.0h0M450.4 70.0h0M457.7 61.2h0M466.2 59.4h0M469.5 54.2h0M475.9 49.5h0M474.2 55.3h0M476.6 58.8h0M469.8 64.1h0M480.4 61.5h0M478.7 71.4h0M483.0 70.7h0M485.8 70.7h0M489.3 70.9h0M489.6 67.2h0M494.0 69.5h0M495.3 71.0h0M496.7 71.5h0M497.0 69.0h0M495.0 70.5h0M493.6 72.6h0M496.4 72.6h0M483.4 76.4h0M492.2 78.0h0M494.3 77.5h0M495.7 78.5h0M495.0 76.8h0M501.8 74.7h0M507.0 77.1h0M508.2 67.9h0M487.6 82.2h0M489.6 87.9h0M497.8 87.9h0M500.0 87.5h0M504.9 81.4h0M505.6 83.2h0M505.2 87.0h0M513.4 83.9h0M514.1 85.3h0M514.8 87.5h0M516.2 71.4h0M516.5 74.0h0M519.0 77.5h0M521.2 76.8h0M522.6 78.2h0M519.0 86.7h0M523.0 89.9h0M521.9 95.2h0M569.5 27.1h0M570.6 28.2h0M571.6 29.6h0M573.0 30.6h0M573.0 32.5h0M574.4 30.2h0M576.3 30.2h0M563.8 39.1h0M563.5 44.4h0M563.8 47.6h0M569.2 41.0h0M569.5 42.9h0M568.8 45.5h0M570.9 44.8h0M572.3 42.0h0M573.0 46.2h0M567.4 49.0h0M570.2 50.5h0M564.5 54.0h0M552.9 48.3h0M551.5 55.1h0M558.6 58.2h0M523.0 43.4h0M527.7 43.4h0M525.3 46.6h0M527.0 47.6h0M520.6 49.0h0M524.2 49.7h0M518.8 52.9h0M527.3 52.3h0M525.3 56.1h0M526.7 57.1h0M529.1 57.5h0M531.0 62.9h0M515.7 71.7h0M515.7 73.8h0M519.2 76.7h0M521.3 77.4h0M523.5 76.7h0M525.6 77.4h0M532.7 78.1h0M536.9 74.5h0M538.3 76.7h0M539.7 71.7h0M542.6 72.4h0M545.4 73.8h0M552.5 70.3h0M553.9 71.7h0M555.3 73.1h0M558.2 73.8h0M560.3 75.2h0M563.1 71.7h0M566.7 77.4h0M507.8 67.5h0M507.1 77.0h0M505.7 83.4h0M505.7 87.0h0M515.6 71.4h0M516.3 74.2h0M518.5 77.7h0M519.2 78.5h0M521.3 76.3h0M522.7 79.2h0M524.1 77.0h0M525.5 77.7h0M513.5 83.4h0M514.2 86.2h0M514.9 87.7h0M519.2 87.0h0M523.4 89.8h0M525.5 91.2h0M522.0 94.7h0M527.0 95.5h0M524.8 102.1h0M528.4 82.0h0M531.2 79.9h0M532.6 78.5h0M529.8 87.0h0M533.3 84.8h0M534.7 86.2h0M535.5 88.4h0M534.0 87.7h0M531.2 93.3h0M533.3 94.0h0M535.5 94.7h0M534.7 96.9h0M536.9 95.9h0M530.5 106.8h0M529.8 107.5h0M534.0 99.7h0M535.5 101.1h0M536.9 103.2h0M534.7 104.0h0M537.6 107.5h0M539.0 110.3h0M538.3 75.6h0M539.7 71.4h0M542.5 72.1h0M536.9 73.5h0M533.3 75.6h0M537.6 82.0h0M536.9 85.5h0M524.1 116.7h0M514.9 121.0h0M523.4 123.1h0M527.7 121.7h0M531.2 123.8h0M537.6 115.3h0M541.8 111.7h0M546.8 115.3h0M550.3 118.1h0M561.0 115.3h0M563.1 71.4h0M567.3 77.7h0M569.4 80.6h0M570.2 85.5h0M569.4 87.7h0M565.9 95.5h0M567.3 96.9h0M564.5 100.4h0M552.5 69.2h0M563.8 89.1h0M565.9 88.4h0M501.6 129.1h0M502.5 137.6h0M505.3 132.7h0M507.7 136.2h0M509.5 139.0h0M509.5 144.7h0M512.0 149.4h0M512.4 150.4h0M515.8 139.0h0M516.2 141.2h0M516.2 146.8h0M513.4 127.3h0M514.8 120.6h0M521.9 128.4h0M522.9 131.0h0M523.4 123.5h0M524.0 116.8h0M524.7 155.3h0M524.0 139.0h0M525.7 137.6h0M527.1 139.7h0M523.3 144.0h0M524.7 145.1h0M525.4 147.1h0M527.1 147.5h0M528.2 143.7h0M529.7 144.0h0M526.5 127.7h0M528.0 121.3h0M528.2 112.8h0M530.4 114.0h0M532.5 114.0h0M530.8 124.4h0M531.8 125.6h0M533.9 124.2h0M532.2 129.8h0M536.5 160.3h0M538.2 153.2h0M539.9 149.0h0M540.3 151.1h0M537.5 144.7h0M536.7 139.0h0M537.0 140.5h0M536.0 136.2h0M538.2 133.4h0M539.6 132.4h0M540.3 134.8h0M538.9 135.5h0M537.9 128.1h0M539.6 128.1h0M536.0 119.6h0M538.2 115.7h0M540.7 113.5h0M541.0 124.4h0M542.7 124.2h0M544.5 125.3h0M543.5 118.5h0M544.5 120.6h0M546.0 122.7h0M541.0 142.9h0M544.5 143.7h0M547.8 144.3h0M551.2 144.0h0M546.7 134.1h0M547.4 136.2h0M548.8 137.6h0M549.5 135.5h0M548.1 136.9h0M549.5 128.4h0M550.6 130.5h0M551.2 132.0h0M552.3 131.0h0M555.2 131.0h0M558.0 132.0h0M558.7 125.6h0M555.2 120.6h0M552.3 122.0h0M550.9 118.5h0M555.9 115.7h0M560.8 115.7h0M547.4 117.8h0M549.5 115.0h0M546.7 114.2h0M543.8 111.4h0M549.5 111.4h0M552.3 110.7h0M555.2 111.1h0M546.7 127.0h0M547.8 124.2h0M545.2 129.8h0M548.3 81.4h0M551.6 98.0h0M559.6 95.0h0M549.8 86.5h0M557.3 109.5h0M554.6 82.3h0M547.4 109.2h0M554.2 77.5h0M552.5 82.9h0M549.4 89.4h0M548.9 99.3h0M552.6 88.4h0M555.4 101.9h0M543.5 91.6h0M547.3 92.4h0M545.5 94.2h0M552.8 91.1h0M546.9 90.2h0M546.7 81.1h0M554.3 83.5h0M559.8 100.8h0M541.4 96.6h0M546.6 94.3h0M553.3 75.1h0M551.6 91.6h0M558.6 82.8h0M557.3 83.6h0M551.1 86.0h0M561.4 99.4h0M567.1 100.1h0M557.9 102.0h0M549.5 93.3h0M560.8 90.2h0M554.1 93.8h0M556.5 90.5h0M552.1 96.3h0M553.6 85.8h0M558.2 81.7h0M546.0 81.8h0M558.6 90.6h0M547.4 83.2h0M555.4 84.0h0M545.6 99.8h0M546.1 90.9h0M553.0 89.8h0M552.7 106.7h0M550.0 82.0h0M542.3 92.1h0M551.0 96.5h0M550.3 89.5h0M548.8 89.1h0M553.9 90.4h0M553.6 112.1h0M555.8 79.0h0M563.1 97.3h0M547.5 102.6h0M553.1 88.2h0M549.3 84.6h0M553.3 104.2h0M551.1 98.0h0M563.9 82.5h0M554.5 91.1h0M546.9 84.3h0M552.9 98.1h0M549.9 94.5h0M557.2 96.8h0M558.0 98.4h0M555.8 111.4h0M556.6 95.2h0M557.1 85.3h0M551.0 101.5h0M556.7 108.7h0M553.1 80.1h0M564.3 104.4h0M546.9 107.1h0M553.2 76.8h0M550.6 89.2h0M562.2 86.5h0M551.5 91.4h0M550.8 85.3h0M554.3 104.2h0M556.6 85.2h0M546.3 95.1h0M548.9 88.0h0M543.3 112.5h0M558.3 84.7h0M558.3 106.8h0M539.1 88.8h0M550.7 100.2h0M552.3 91.8h0M552.7 111.6h0M565.5 89.0h0M547.3 88.6h0M553.2 98.6h0M559.0 97.7h0M547.9 98.8h0M554.4 111.8h0M552.9 81.3h0M546.9 107.8h0M549.9 74.0h0M549.6 94.0h0M559.9 84.4h0M556.9 101.6h0M548.9 92.2h0M563.3 110.3h0M558.0 97.2h0M559.6 92.7h0M552.4 85.8h0M553.0 93.2h0M569.1 92.2h0M560.4 106.5h0M551.9 105.1h0M540.4 94.9h0M546.3 104.0h0M551.5 83.6h0M550.8 88.8h0M557.2 98.3h0M551.4 87.7h0M552.7 106.6h0M555.0 100.1h0M552.1 81.7h0M548.9 100.2h0M553.6 85.4h0M543.6 95.1h0M551.0 90.7h0M551.1 96.7h0M554.7 103.1h0M558.4 106.7h0M557.7 90.8h0M552.7 98.7h0M551.2 99.2h0M559.7 86.4h0M542.7 105.3h0M553.1 100.7h0M545.3 110.5h0M557.3 92.8h0M551.0 95.1h0M552.0 91.4h0M546.5 106.0h0M552.8 94.7h0M556.1 90.9h0M551.3 94.7h0M547.4 102.0h0M549.0 85.4h0M548.0 95.5h0M557.3 88.3h0M544.2 104.1h0M546.8 105.4h0M552.7 87.4h0M549.3 98.4h0M558.2 92.1h0M558.5 113.8h0M551.8 83.1h0M546.9 80.8h0M549.3 87.1h0M545.3 99.0h0M564.7 103.9h0M556.0 98.3h0M563.3 99.1h0M553.4 82.3h0M552.6 87.0h0M548.9 87.2h0M552.7 90.9h0M558.1 81.4h0M552.0 111.7h0M553.2 105.4h0M559.6 106.5h0M557.3 80.9h0M551.4 90.4h0M544.0 89.6h0M545.7 78.2h0M554.2 93.6h0M549.0 85.0h0M549.9 90.3h0M550.6 93.5h0M550.5 97.7h0M556.0 97.4h0M549.2 88.1h0M555.5 92.1h0M554.9 107.2h0M557.2 96.1h0M553.1 80.4h0M558.1 88.3h0M555.9 95.9h0M554.6 102.5h0M550.2 90.3h0M548.0 90.4h0M562.7 90.5h0M559.9 101.8h0M557.2 101.6h0M547.1 97.5h0M562.2 87.4h0M552.7 87.5h0M554.8 83.8h0M562.3 90.4h0M544.1 111.0h0M558.6 98.9h0M556.1 90.6h0M551.7 100.9h0M558.3 102.9h0M554.2 89.6h0M551.9 104.5h0M561.4 90.8h0M550.2 105.9h0M557.2 100.6h0M545.4 90.4h0M550.0 96.0h0M543.2 106.1h0M554.7 98.1h0M546.1 93.7h0M560.7 79.1h0M554.8 100.6h0M549.0 101.7h0M551.1 105.7h0M556.1 96.1h0M564.7 101.9h0M560.6 82.7h0M549.2 101.9h0M558.3 93.5h0M557.5 83.9h0M554.2 83.1h0M555.0 89.4h0M549.3 94.5h0M563.5 84.4h0M549.5 104.1h0M550.5 110.8h0M554.3 94.9h0M555.1 110.5h0M556.8 98.9h0M554.5 79.2h0M547.9 108.1h0M557.8 98.8h0M556.7 88.8h0M555.0 85.4h0M555.3 87.2h0M551.8 98.3h0M551.1 100.2h0M555.6 97.4h0M560.7 80.0h0M543.7 99.9h0M558.5 113.1h0M557.4 101.9h0M547.9 101.1h0M556.9 84.0h0M547.8 92.9h0M553.4 96.2h0M552.0 96.5h0M555.6 84.4h0M555.4 91.6h0M547.5 96.0h0M561.6 80.1h0M543.4 78.3h0M564.5 91.6h0M552.7 86.5h0M547.5 74.7h0M554.0 96.5h0M541.5 84.1h0M548.7 93.8h0M554.4 104.7h0M560.9 104.2h0M560.8 82.9h0M549.8 104.9h0M554.7 94.2h0M541.5 76.3h0M557.2 97.2h0M551.3 90.1h0M543.0 97.5h0M559.0 109.6h0M553.3 92.1h0M546.6 105.6h0M562.9 88.2h0M554.7 94.9h0M550.9 99.8h0M544.6 86.0h0M555.9 94.4h0M551.4 87.9h0M552.5 91.1h0M551.6 93.7h0M553.7 108.7h0M544.6 96.5h0M549.4 83.2h0M539.3 99.8h0M547.3 86.8h0M555.7 83.6h0M553.1 93.2h0M557.6 103.5h0M547.9 102.6h0M552.4 95.1h0M551.7 101.3h0M545.9 96.4h0M559.8 91.2h0M564.7 86.9h0M554.2 89.3h0M549.4 83.3h0M549.8 93.4h0M548.3 102.3h0M561.8 79.4h0M557.8 95.7h0M554.4 117.3h0M559.9 97.1h0M557.0 86.6h0M551.6 97.2h0M558.6 121.4h0M558.9 111.9h0M547.9 101.7h0M556.9 78.0h0M568.4 87.1h0M538.5 116.4h0M569.1 87.2h0M544.5 121.0h0M555.9 105.4h0M561.0 104.4h0M547.0 76.1h0M554.0 82.0h0M549.5 118.0h0M554.9 96.7h0M550.6 105.1h0M558.3 79.5h0M551.7 117.4h0M556.8 86.4h0M542.9 116.1h0M549.4 85.3h0M544.8 94.6h0M549.0 91.6h0M543.1 104.0h0M563.8 88.9h0M545.1 110.9h0M536.8 88.6h0M546.6 98.1h0M547.5 84.9h0M552.8 81.2h0M556.7 74.3h0M554.0 104.4h0M557.3 93.8h0M545.1 97.1h0M544.7 79.9h0M561.3 84.8h0M566.2 102.4h0M545.9 101.5h0M561.1 78.8h0M541.7 82.9h0M551.5 101.1h0M550.3 86.9h0M545.2 110.8h0M560.1 97.6h0M538.2 103.9h0M552.6 99.2h0M565.6 106.3h0M541.2 83.9h0M562.4 98.6h0M558.0 94.7h0M541.5 100.1h0M564.6 101.0h0M540.4 92.9h0M546.1 99.1h0M559.9 121.7h0M552.8 91.8h0M551.5 97.4h0M547.0 97.5h0M550.9 82.5h0M555.8 92.7h0M542.0 103.3h0M546.5 119.0h0M555.1 98.1h0M544.0 92.0h0M558.4 88.5h0M552.5 107.2h0M553.7 96.9h0M559.8 86.3h0M541.8 98.3h0M561.5 102.3h0M548.9 100.7h0M554.7 81.4h0M537.2 89.7h0M539.9 86.1h0M554.6 98.2h0M550.5 117.8h0M546.6 92.3h0M562.2 83.2h0M536.1 113.5h0M553.9 104.7h0M556.6 108.5h0M546.6 96.3h0M540.9 99.0h0M553.0 91.7h0M540.6 107.8h0M559.5 110.8h0M543.9 112.5h0M557.0 96.1h0M548.1 100.8h0M559.6 108.8h0M571.9 93.4h0M556.9 92.5h0M558.4 99.6h0M546.0 81.4h0M544.5 101.0h0M564.6 107.6h0M540.6 91.8h0M551.7 96.1h0M551.7 107.1h0M552.8 88.5h0M533.4 92.7h0M535.5 94.7h0M553.3 79.8h0M549.0 91.9h0M567.2 101.6h0M532.9 101.3h0M553.5 93.1h0M546.3 102.9h0M555.5 100.8h0M687.4 40.1h0M688.1 39.5h0M663.3 55.1h0M664.7 56.5h0M667.5 55.4h0M662.9 63.9h0M673.5 62.5h0M652.7 67.0h0M652.0 74.5h0M658.3 72.4h0M667.5 73.4h0M656.9 77.8h0M657.6 76.9h0M662.3 78.8h0M678.6 76.9h0M700.1 71.0h0M698.0 77.1h0M648.4 80.6h0M651.0 82.0h0M656.6 79.2h0M637.1 84.4h0M642.0 87.7h0M643.5 92.2h0M652.7 86.3h0M659.0 84.9h0M665.1 84.9h0M669.7 83.5h0M671.1 84.9h0M670.4 82.5h0M682.4 82.0h0M694.4 83.0h0M699.4 82.5h0M652.7 89.8h0M655.5 92.0h0M656.9 93.4h0M658.3 95.2h0M659.7 96.2h0M662.6 90.5h0M666.8 93.4h0M669.0 92.7h0M663.3 96.9h0M667.5 97.6h0M675.3 87.7h0M676.0 92.0h0M679.6 90.5h0M681.0 87.7h0M686.7 89.1h0M686.0 91.2h0M690.9 89.1h0M692.3 93.4h0M690.9 94.1h0M696.6 92.7h0M698.7 88.4h0M700.8 90.5h0M703.7 93.4h0M702.2 96.2h0M644.9 99.7h0M647.0 101.2h0M652.0 99.0h0M652.7 102.6h0M651.2 106.1h0M658.3 104.0h0M660.5 104.7h0M661.9 103.3h0M663.3 105.4h0M656.9 107.5h0M659.0 106.8h0M664.0 109.0h0M666.8 111.8h0M668.2 110.4h0M670.4 109.7h0M671.8 111.1h0M670.4 100.5h0M672.5 101.2h0M674.6 101.9h0M676.7 101.9h0M678.9 102.6h0M673.9 109.0h0M676.7 111.1h0M678.2 113.9h0M680.3 112.5h0M681.0 106.1h0M682.4 104.7h0M683.8 98.3h0M686.0 99.7h0M687.4 99.0h0M650.5 110.8h0M651.2 111.4h0M646.3 113.2h0M647.7 115.3h0M649.1 116.0h0M654.8 117.5h0M656.9 116.0h0M659.7 114.6h0M662.6 115.3h0M679.6 118.9h0M679.6 123.1h0M683.8 116.7h0M721.1 87.1h0M728.9 93.7h0M718.2 91.3h0M718.0 93.5h0M717.1 97.7h0M723.9 99.1h0M723.2 100.5h0M731.0 105.2h0M731.7 109.0h0M735.2 109.7h0M745.2 103.8h0M748.7 105.2h0M745.4 109.7h0M748.7 113.7h0M733.1 116.1h0M735.2 117.5h0M736.7 116.1h0M738.1 114.7h0M739.5 115.4h0M740.9 116.8h0M742.3 117.5h0M743.0 120.4h0M733.8 120.4h0M736.0 121.8h0M737.4 122.8h0M729.6 126.0h0M682.1 82.1h0M694.2 82.8h0M699.8 82.5h0M748.0 28.8h0M748.0 36.7h0M749.0 39.8h0M748.0 41.5h0M742.4 41.0h0M744.8 42.9h0M751.9 42.7h0M752.9 45.2h0M760.4 34.4h0M762.2 38.4h0M761.4 39.1h0M759.7 43.8h0M761.1 42.7h0M763.9 49.5h0M733.9 48.0h0M745.5 48.0h0M750.5 49.0h0M737.3 53.3h0M738.4 55.4h0M742.4 51.2h0M744.1 53.7h0M743.4 63.2h0M745.8 61.4h0M700.4 159.9h0M702.5 155.3h0M701.1 153.9h0M699.7 152.5h0M689.0 149.7h0M690.5 150.4h0M694.0 147.5h0M696.1 149.0h0M698.2 151.1h0M696.8 150.4h0M690.5 143.3h0M689.7 141.9h0M694.7 144.0h0M696.1 142.6h0M698.2 144.0h0M693.3 139.7h0M695.4 138.3h0M705.3 145.4h0M706.7 144.0h0M708.9 144.7h0M707.5 146.1h0M712.4 144.0h0M716.7 144.7h0M716.0 141.2h0M702.5 139.0h0M704.6 140.5h0M706.7 137.6h0M708.9 139.7h0M711.0 136.9h0M713.1 135.5h0M713.8 133.4h0M718.1 134.8h0M718.8 131.2h0M694.7 133.4h0M694.0 135.5h0M689.7 128.4h0M678.4 122.7h0M679.8 119.2h0M662.1 115.0h0M730.1 125.6h0M721.6 127.7h0M694.0 113.2h0M687.9 101.9h0M698.3 105.8h0M699.8 137.5h0M709.2 107.2h0M711.4 110.6h0M706.5 115.9h0M707.4 112.5h0M695.0 113.0h0M715.7 112.5h0M689.3 103.7h0M692.9 115.0h0M708.8 119.3h0M716.4 113.2h0M712.8 118.1h0M711.6 98.8h0M717.4 101.5h0M692.6 122.6h0M700.5 131.6h0M706.3 106.5h0M706.3 112.2h0M721.1 130.5h0M712.6 112.2h0M705.7 125.3h0M696.5 108.7h0M713.8 122.5h0M702.5 113.5h0M684.4 126.6h0M703.7 103.1h0M693.1 107.9h0M722.8 122.2h0M690.9 132.7h0M719.0 106.4h0M698.7 114.8h0M699.5 127.3h0M720.5 123.3h0M703.4 118.4h0M711.5 101.8h0M718.1 113.1h0M707.8 117.3h0M714.5 125.6h0M728.2 112.9h0M695.6 117.3h0M698.3 123.9h0M696.7 117.4h0M715.1 125.3h0M707.4 128.9h0M718.8 100.9h0M709.0 117.9h0M702.2 110.5h0M705.8 119.8h0M708.2 128.6h0M715.8 111.0h0M697.4 124.0h0M698.1 117.8h0M710.4 125.6h0M710.8 129.4h0M700.6 122.4h0M698.5 118.0h0M706.7 108.0h0M709.2 117.6h0M698.1 113.4h0M710.2 116.6h0M717.6 117.4h0M696.8 121.9h0M698.8 118.3h0M686.4 113.2h0M711.2 110.4h0M705.1 121.6h0M706.0 132.3h0M702.6 114.6h0M703.6 98.5h0M689.2 121.0h0M701.8 128.7h0M704.5 114.7h0M716.1 118.7h0M722.1 106.7h0M709.9 122.4h0M711.1 126.6h0M716.1 116.6h0M699.5 125.2h0M706.0 125.1h0M719.7 118.3h0M696.2 114.3h0M714.0 114.5h0M718.2 117.1h0M707.3 111.2h0M704.9 126.7h0M702.4 113.8h0M697.7 123.8h0M689.9 110.8h0M715.4 129.5h0M703.4 125.3h0M684.9 123.4h0M708.8 105.6h0M687.0 112.0h0M708.4 119.9h0M706.8 123.5h0M713.0 104.1h0M701.6 111.9h0M716.4 112.1h0M716.1 117.3h0M705.6 115.5h0M700.3 108.6h0M703.5 122.5h0M695.2 123.6h0M713.5 114.9h0M702.8 109.3h0M702.6 109.2h0M718.5 131.0h0M702.5 116.0h0M685.5 111.6h0M709.0 118.8h0M706.7 123.9h0M706.3 112.8h0M722.2 99.1h0M693.2 109.6h0M697.7 109.3h0M702.9 109.8h0M704.6 121.5h0M705.5 117.3h0M695.4 105.9h0M702.1 124.4h0M709.1 125.9h0M715.5 126.2h0M696.7 127.2h0M713.0 134.7h0M711.3 119.0h0M703.8 117.6h0M687.9 113.9h0M704.7 125.0h0M698.3 117.3h0M724.2 111.4h0M713.9 111.3h0M704.1 120.2h0M714.3 111.7h0M694.5 129.7h0M707.1 123.2h0M714.6 122.9h0M702.4 114.9h0M689.0 117.7h0M700.3 115.9h0M724.6 122.2h0M705.7 104.0h0M712.7 129.7h0M696.6 119.9h0M699.8 114.8h0M701.3 101.8h0M699.8 101.7h0M719.5 125.4h0M705.6 118.6h0M705.7 117.9h0M707.2 114.0h0M703.4 104.2h0M694.8 110.7h0M707.3 112.8h0M724.8 114.4h0M701.5 119.9h0M715.8 132.5h0M715.2 110.9h0M703.4 125.4h0M707.8 123.2h0M704.4 130.3h0M720.1 126.1h0M706.8 102.0h0M691.4 119.1h0M700.4 126.4h0M715.1 111.9h0M711.8 116.5h0M703.1 126.1h0M717.0 111.6h0M695.6 104.8h0M690.7 128.0h0M724.6 118.2h0M716.2 110.3h0M704.7 124.4h0M708.6 116.0h0M688.3 103.6h0M701.2 111.5h0M704.6 110.7h0M703.2 116.9h0M710.7 116.9h0M699.8 113.9h0M714.7 114.5h0M695.5 107.5h0M708.3 121.2h0M717.9 113.5h0M719.4 113.2h0M703.0 111.3h0M710.7 125.5h0M705.1 111.9h0M689.5 117.5h0M701.8 114.5h0M698.8 108.6h0M700.9 120.1h0M715.0 116.1h0M708.5 114.5h0M704.0 104.2h0M714.2 121.4h0M720.1 110.8h0M706.5 108.1h0M707.7 115.1h0M712.1 114.9h0M711.8 111.9h0M711.3 113.6h0M700.8 117.0h0M709.0 103.9h0M689.8 117.9h0M704.7 98.5h0M687.9 109.5h0M708.5 118.0h0M715.5 126.4h0M704.9 125.5h0M692.5 103.9h0M707.3 125.8h0M718.0 100.7h0M692.9 115.4h0M699.9 119.1h0M706.6 131.6h0M704.6 117.8h0M706.1 125.9h0M694.0 119.6h0M697.4 103.9h0M717.4 120.9h0M719.6 118.5h0M712.0 117.5h0M711.2 112.8h0M722.9 108.6h0M722.9 114.7h0M714.4 117.6h0M710.1 129.5h0M707.0 108.2h0M708.0 122.2h0M716.7 100.9h0M704.0 123.7h0M693.7 112.8h0M702.1 121.4h0M717.0 116.2h0M706.2 124.7h0M711.1 115.5h0M719.3 104.0h0M707.1 112.8h0M700.4 118.2h0M712.2 119.6h0M722.6 125.4h0M686.3 117.5h0M713.2 111.1h0M708.6 112.4h0M709.4 102.0h0M685.3 111.5h0M707.8 128.2h0M702.6 109.7h0M714.9 116.7h0M724.1 115.5h0M685.2 109.2h0M695.5 103.9h0M697.3 110.2h0M702.4 111.4h0M709.5 119.9h0M707.1 118.0h0M685.7 101.4h0M696.1 118.5h0M690.1 112.5h0M707.8 133.9h0M708.0 111.4h0M716.6 118.0h0M702.1 126.1h0M695.6 117.8h0M706.0 124.2h0M693.2 104.5h0M701.0 113.6h0M705.5 112.7h0M709.5 122.2h0M707.3 106.6h0M717.0 102.3h0M702.8 123.9h0M698.5 127.5h0M724.9 130.0h0M709.4 124.7h0M699.6 119.5h0M709.7 116.8h0M706.5 114.1h0M684.4 119.5h0M708.2 134.3h0M712.3 116.5h0M714.0 121.5h0M704.7 112.5h0M689.6 117.0h0M721.9 99.2h0M695.0 122.7h0M706.9 119.7h0M685.5 110.6h0M710.2 121.2h0M708.0 108.0h0M710.6 105.2h0M695.1 105.5h0M720.0 112.2h0M705.5 96.2h0M716.4 120.1h0M687.6 101.5h0M722.3 107.4h0M724.2 111.7h0M710.1 122.0h0M699.6 114.0h0M714.9 108.5h0M684.3 124.0h0M698.4 127.3h0M699.8 112.0h0M717.2 110.2h0M702.8 129.0h0M706.0 123.9h0M708.4 122.8h0M707.8 126.2h0M702.6 120.0h0M697.4 126.5h0M708.7 119.0h0M704.8 127.9h0M727.1 110.5h0M684.8 106.1h0M696.3 114.7h0M704.3 125.6h0M700.4 115.6h0M706.0 108.0h0M703.9 107.2h0M682.0 125.2h0M701.5 110.2h0M686.9 112.7h0M715.3 123.4h0M693.2 131.9h0M724.3 105.9h0M686.3 103.3h0M711.8 125.6h0M706.8 110.5h0M703.8 120.9h0M692.1 100.5h0M703.9 126.9h0M706.8 117.6h0M697.7 124.1h0M686.8 115.2h0M698.5 114.4h0M695.0 122.5h0M703.9 110.4h0M710.0 115.3h0M699.2 110.4h0M712.8 107.3h0M702.3 113.3h0M707.9 113.9h0M727.3 100.0h0M710.8 115.4h0M716.3 101.0h0M717.4 103.2h0M711.9 120.3h0M704.9 109.0h0M696.0 116.5h0M696.7 98.1h0M685.6 122.8h0M713.2 120.3h0M705.1 119.1h0M709.9 118.0h0M696.4 109.1h0M685.7 120.4h0M687.8 117.0h0M717.8 114.6h0M713.3 135.9h0M706.9 111.0h0M707.7 126.6h0M694.1 127.9h0M723.5 129.4h0M689.5 117.3h0M693.9 136.2h0M698.4 111.4h0M701.6 124.6h0M696.1 120.2h0M701.0 127.2h0M713.7 122.1h0M695.0 123.6h0M689.5 130.9h0M705.7 121.8h0M720.1 133.2h0M702.9 126.6h0M711.1 126.0h0M703.3 123.3h0M688.8 126.6h0M684.6 139.7h0M712.1 110.2h0M708.4 108.7h0M723.6 122.7h0M695.9 104.4h0M700.4 117.6h0M710.4 131.4h0M702.4 124.9h0M720.5 126.7h0M698.7 126.7h0M695.2 124.8h0M702.7 107.8h0M709.9 120.8h0M711.5 105.3h0M716.4 132.5h0M697.4 118.8h0M702.6 119.6h0M712.8 111.9h0M686.9 117.1h0M726.5 115.4h0M688.8 109.5h0M703.9 132.5h0M692.1 121.4h0M704.4 124.6h0M703.5 131.0h0M710.5 112.7h0M684.4 130.8h0M703.9 116.7h0M704.1 127.0h0M696.0 112.4h0M687.8 109.9h0M691.0 132.0h0M705.1 125.3h0M694.1 130.9h0M681.1 124.5h0M710.4 112.9h0M688.0 125.0h0M692.1 109.4h0M701.0 106.9h0M699.5 141.5h0M695.6 129.2h0M687.6 120.2h0M697.8 117.4h0M711.1 142.9h0M699.6 133.6h0M705.8 127.3h0M695.2 111.4h0M698.6 110.7h0M701.1 107.6h0M701.3 121.1h0M724.8 138.2h0M707.9 113.7h0M709.1 128.2h0M698.7 109.9h0M726.2 116.9h0M706.3 123.2h0M707.6 127.7h0M706.2 118.3h0M717.1 115.2h0M713.3 138.7h0M698.1 119.6h0M697.6 127.8h0M697.6 129.0h0M709.2 110.4h0M722.4 120.7h0M693.4 125.3h0M718.5 118.7h0M459.3 209.2h0M490.7 208.8h0M493.3 211.0h0M495.7 207.8h0M499.2 212.7h0M501.4 214.2h0M466.7 219.5h0M456.7 224.4h0M458.2 224.1h0M487.2 222.4h0M491.0 220.1h0M496.4 218.1h0M493.9 224.1h0M450.4 237.1h0M453.9 236.1h0M454.6 237.5h0M458.9 238.2h0M461.0 238.2h0M461.0 234.0h0M463.1 233.3h0M470.2 235.4h0M471.6 234.7h0M477.7 235.4h0M480.1 231.4h0M481.5 234.0h0M482.2 232.9h0M484.4 237.1h0M486.5 236.8h0M485.8 238.0h0M453.9 246.0h0M456.0 245.6h0M461.0 243.9h0M464.5 245.0h0M468.1 244.6h0M466.7 241.8h0M468.1 241.1h0M475.2 242.8h0M480.8 240.0h0M482.2 244.2h0M485.8 246.0h0M487.2 246.0h0M493.9 241.4h0M496.4 246.0h0M500.7 248.9h0M507.0 243.2h0M518.4 246.7h0M523.3 244.6h0M482.0 253.5h0M485.1 255.2h0M487.9 255.9h0M487.2 251.0h0M463.8 256.0h0M465.2 258.1h0M491.5 254.5h0M493.6 253.8h0M495.7 255.2h0M497.8 254.5h0M500.0 256.0h0M502.1 256.7h0M506.3 256.7h0M509.2 256.0h0M507.0 251.0h0M499.2 251.7h0M495.0 251.0h0M514.1 256.7h0M521.2 253.1h0M458.9 260.2h0M463.8 256.4h0M465.2 258.5h0M469.5 267.7h0M470.2 269.1h0M466.7 272.7h0M468.8 273.4h0M466.0 279.5h0M459.6 287.5h0M469.5 287.5h0M468.8 290.4h0M467.4 301.7h0M473.0 305.2h0M478.0 303.8h0M481.5 303.1h0M474.5 265.6h0M475.9 269.8h0M477.3 280.5h0M463.8 348.8h0M466.0 349.1h0M469.5 337.5h0M470.9 338.2h0M471.6 336.8h0M470.2 336.1h0M475.2 336.1h0M481.5 332.5h0M468.1 331.8h0M468.8 330.4h0M473.0 331.1h0M464.5 327.9h0M471.6 327.6h0M474.5 326.2h0M472.3 321.2h0M473.7 322.6h0M472.3 318.4h0M477.3 318.4h0M478.7 319.8h0M458.9 318.4h0M463.1 314.1h0M463.8 309.2h0M469.5 308.9h0M474.5 312.7h0M475.2 313.4h0M473.0 305.2h0M467.8 301.4h0M478.0 307.0h0M480.8 309.2h0M479.4 302.8h0M483.0 303.5h0M483.7 314.1h0M487.2 323.3h0M488.6 312.7h0M490.7 313.4h0M492.2 315.5h0M493.6 317.0h0M494.3 317.7h0M490.7 319.8h0M493.6 320.5h0M490.0 305.6h0M492.2 305.6h0M492.9 302.8h0M496.4 309.2h0M498.5 305.6h0M500.7 308.5h0M502.1 309.2h0M504.2 305.6h0M506.3 309.2h0M504.9 304.9h0M510.6 306.3h0M512.0 301.4h0M517.0 308.5h0M519.1 309.2h0M512.7 318.4h0M514.8 314.8h0M517.0 317.0h0M520.5 318.4h0M521.9 321.2h0M522.6 309.2h0M507.1 243.5h0M518.2 247.0h0M518.9 246.3h0M523.1 244.2h0M521.0 252.7h0M524.5 252.7h0M541.5 252.7h0M513.9 256.2h0M523.8 256.9h0M529.5 256.9h0M529.2 260.5h0M521.7 261.2h0M527.4 265.4h0M535.4 264.3h0M525.2 269.7h0M529.5 272.5h0M520.3 267.5h0M518.9 272.5h0M519.6 278.2h0M522.4 277.5h0M523.1 278.9h0M525.2 282.4h0M537.7 282.4h0M534.5 285.9h0M535.9 286.7h0M532.3 285.9h0M540.5 288.1h0M549.6 273.6h0M550.7 284.5h0M552.2 283.8h0M557.8 286.0h0M557.8 262.6h0M560.0 261.2h0M559.2 266.1h0M561.4 267.5h0M563.5 268.9h0M564.9 271.1h0M564.9 263.3h0M567.0 262.3h0M569.2 261.9h0M571.3 262.3h0M574.1 263.7h0M570.6 268.2h0M571.3 270.4h0M569.2 274.6h0M572.7 272.5h0M574.8 274.6h0M576.9 278.2h0M579.1 266.5h0M573.4 284.5h0M574.1 285.5h0M515.3 282.1h0M518.2 282.1h0M525.2 282.1h0M550.0 284.2h0M552.2 283.5h0M556.4 290.6h0M558.5 292.0h0M518.9 287.1h0M521.7 287.8h0M523.1 288.5h0M527.4 286.4h0M529.5 287.8h0M533.0 286.4h0M535.2 285.7h0M536.6 287.8h0M540.5 288.2h0M526.7 289.9h0M519.6 292.0h0M538.0 293.5h0M539.4 295.6h0M545.8 297.0h0M549.3 296.7h0M511.8 302.0h0M510.4 306.2h0M506.1 309.0h0M505.4 304.8h0M527.4 303.4h0M516.7 308.3h0M518.9 309.0h0M524.5 308.3h0M526.7 309.7h0M533.0 305.5h0M531.6 308.3h0M530.2 311.9h0M515.3 314.0h0M516.7 317.5h0M512.5 318.5h0M520.3 318.2h0M521.7 321.4h0M525.2 314.7h0M506.8 299.8h0M482.8 272.9h0M497.8 290.8h0M487.6 282.7h0M485.9 280.5h0M484.5 274.0h0M482.8 267.8h0M482.1 255.9h0M508.3 293.7h0M501.4 275.3h0M510.7 276.2h0M501.0 293.3h0M499.1 297.4h0M495.7 277.9h0M498.3 265.8h0M487.1 289.1h0M481.0 293.3h0M499.7 294.0h0M504.2 287.0h0M513.4 278.9h0M496.2 293.4h0M491.0 293.5h0M503.6 273.8h0M485.3 255.5h0M514.6 261.9h0M485.9 290.2h0M501.5 282.3h0M497.9 274.6h0M488.5 270.8h0M502.6 292.6h0M508.0 279.2h0M476.0 285.7h0M509.9 282.3h0M496.5 282.0h0M498.1 282.5h0M498.1 280.0h0M502.4 283.9h0M519.6 281.4h0M492.3 272.6h0M500.7 281.3h0M499.5 277.5h0M495.5 289.0h0M509.9 284.1h0M496.2 266.0h0M486.4 280.4h0M494.9 278.6h0M486.8 278.2h0M478.9 265.3h0M489.6 286.7h0M491.2 268.2h0M499.4 278.2h0M505.4 283.2h0M498.7 277.0h0M502.9 270.4h0M482.4 290.0h0M492.2 279.7h0M502.4 291.3h0M508.0 258.5h0M500.9 274.6h0M488.2 277.4h0M480.7 283.9h0M507.4 261.8h0M490.2 293.4h0M499.9 275.1h0M509.8 258.8h0M493.9 280.1h0M493.5 288.5h0M480.8 279.5h0M489.1 293.4h0M506.2 270.0h0M486.2 278.4h0M488.4 272.1h0M500.4 273.4h0M513.4 279.7h0M491.5 265.4h0M491.6 292.2h0M501.5 296.1h0M508.6 285.6h0M489.9 277.1h0M497.1 259.0h0M499.5 266.4h0M495.6 272.7h0M485.3 278.7h0M515.5 267.7h0M494.3 277.6h0M499.4 259.4h0M499.3 286.2h0M491.1 280.6h0M472.1 283.1h0M511.1 278.6h0M496.2 276.1h0M497.8 264.1h0M511.0 273.5h0M492.3 299.1h0M496.8 274.1h0M512.0 281.4h0M505.4 272.4h0M480.2 281.4h0M510.1 273.7h0M500.1 288.0h0M499.2 280.2h0M504.0 281.9h0M491.8 292.1h0M504.3 284.0h0M499.3 279.9h0M478.3 304.5h0M500.1 274.2h0M493.3 282.7h0M496.7 260.1h0M493.1 284.9h0M502.6 290.0h0M487.0 271.9h0M500.4 272.2h0M499.0 269.6h0M502.5 280.4h0M502.5 280.1h0M489.7 265.0h0M497.5 272.4h0M483.2 273.2h0M504.5 294.8h0M504.3 296.3h0M493.7 278.1h0M488.3 270.6h0M512.3 285.2h0M515.3 269.6h0M506.5 271.0h0M506.6 257.4h0M488.6 269.0h0M516.1 258.6h0M507.7 293.1h0M498.5 290.2h0M494.8 296.5h0M504.7 266.2h0M499.1 283.5h0M486.6 268.6h0M491.1 265.5h0M502.2 283.7h0M476.4 274.9h0M498.7 263.6h0M494.6 283.5h0M481.2 276.2h0M474.9 288.9h0M490.2 262.1h0M479.6 259.6h0M509.0 269.3h0M491.5 274.6h0M482.6 288.6h0M473.1 290.2h0M489.5 279.7h0M499.4 289.4h0M484.9 286.6h0M496.1 277.2h0M493.9 292.7h0M501.0 294.6h0M495.6 291.3h0M488.0 258.5h0M474.8 303.2h0M487.7 281.0h0M486.3 284.1h0M512.1 261.2h0M495.8 269.6h0M478.6 268.0h0M496.7 294.0h0M508.6 278.7h0M480.7 287.1h0M496.4 278.8h0M485.6 277.0h0M515.1 297.3h0M508.6 287.2h0M492.7 279.0h0M497.9 283.8h0M493.2 268.4h0M507.1 274.4h0M504.5 276.9h0M503.0 285.3h0M503.6 287.5h0M487.5 262.4h0M496.1 299.3h0M488.6 267.7h0M518.2 260.1h0M491.1 274.0h0M490.1 271.1h0M506.8 281.5h0M498.2 258.7h0M504.1 281.0h0M498.0 289.1h0M499.5 278.7h0M500.5 270.4h0M487.9 262.5h0M505.7 271.1h0M498.2 292.6h0M513.7 274.7h0M498.1 280.2h0M484.2 273.2h0M513.3 288.4h0M513.2 295.3h0M498.7 264.0h0M510.1 287.7h0M501.2 289.7h0M489.0 280.7h0M496.5 260.9h0M485.2 277.5h0M475.5 288.0h0M503.8 278.1h0M499.2 256.8h0M498.1 288.2h0M501.3 290.2h0M495.9 303.3h0M500.6 288.6h0M506.7 269.6h0M485.8 288.5h0M484.6 271.6h0M505.8 265.6h0M487.2 263.8h0M486.6 301.8h0M501.6 290.7h0M485.5 291.7h0M479.8 286.8h0M498.7 284.2h0M502.6 266.4h0M497.5 275.3h0M508.0 275.0h0M478.4 294.2h0M513.4 290.6h0M493.2 267.1h0M505.8 272.2h0M501.2 288.2h0M501.0 266.4h0M481.4 278.1h0M497.5 277.5h0M502.2 255.3h0M501.7 298.5h0M495.4 272.5h0M494.6 293.6h0M494.4 268.9h0M480.2 295.9h0M509.8 278.8h0M515.9 273.9h0M503.1 262.7h0M486.7 278.6h0M500.8 286.3h0M487.8 272.3h0M495.3 275.3h0M493.9 288.7h0M507.3 256.2h0M508.8 281.0h0M499.5 282.9h0M505.2 287.4h0M481.9 289.4h0M485.8 283.6h0M498.5 260.1h0M496.6 275.8h0M490.1 303.7h0M498.0 274.4h0M512.9 278.6h0M502.1 291.2h0M514.5 266.6h0M506.3 296.1h0M503.3 279.0h0M480.9 281.3h0M491.2 257.7h0M502.2 277.5h0M494.2 303.0h0M475.5 285.3h0M494.4 269.7h0M476.4 268.8h0M485.8 277.5h0M488.2 268.1h0M495.9 269.1h0M484.6 293.4h0M498.2 265.4h0M494.5 271.6h0M492.7 296.0h0M492.3 281.1h0M488.2 269.5h0M481.6 270.6h0M492.3 274.8h0M496.7 279.7h0M502.4 276.0h0M508.6 286.0h0M509.2 278.0h0M507.7 279.8h0M480.6 278.4h0M494.6 260.9h0M486.9 271.3h0M517.7 282.4h0M513.3 290.0h0M506.5 288.6h0M482.3 293.9h0M486.9 284.1h0M495.4 298.4h0M507.6 301.0h0M501.0 278.9h0M501.3 279.4h0M484.9 269.9h0M495.6 287.1h0M502.3 277.7h0M497.7 297.5h0M513.7 293.4h0M510.8 294.0h0M513.6 263.8h0M491.7 281.8h0M500.1 295.2h0M479.3 280.8h0M499.0 270.9h0M495.2 291.1h0M500.9 277.5h0M498.5 277.6h0M505.3 277.9h0M505.8 272.4h0M496.3 265.6h0M494.7 289.3h0M487.1 274.9h0M497.6 274.9h0M504.5 264.2h0M504.7 295.1h0M512.2 278.4h0M489.2 260.2h0M503.1 289.2h0M499.4 283.4h0M503.0 274.9h0M482.9 262.0h0M489.3 268.2h0M481.8 274.0h0M487.0 287.2h0M496.0 288.9h0M484.3 266.0h0M481.8 282.7h0M492.7 281.9h0M496.4 290.9h0M496.7 268.6h0M478.9 283.6h0M506.1 281.1h0M488.4 274.0h0M493.7 286.3h0M496.2 293.4h0M494.8 271.5h0M514.0 267.2h0M489.4 304.5h0M499.4 300.9h0M473.3 294.5h0M496.7 280.5h0M488.3 284.7h0M518.8 287.0h0M506.4 267.7h0M502.5 268.9h0M481.4 298.4h0M488.1 273.1h0M506.4 268.9h0M480.7 283.5h0M500.9 301.8h0M482.5 290.4h0M506.6 274.1h0M495.1 280.6h0M483.7 261.6h0M506.5 265.2h0M484.4 291.4h0M490.1 274.4h0M478.8 262.7h0M478.9 260.6h0M513.4 266.3h0M506.1 263.3h0M496.1 266.3h0M473.6 271.8h0M483.1 281.9h0M505.8 278.5h0M514.0 285.3h0M514.8 286.9h0M509.9 279.6h0M479.1 271.5h0M500.6 296.6h0M488.4 280.6h0M484.0 262.2h0M489.4 298.1h0M505.6 275.1h0M495.7 286.6h0M494.4 272.8h0M492.0 287.9h0M490.8 289.9h0M471.5 268.0h0M490.2 287.0h0M483.7 271.1h0M499.9 277.2h0M486.9 273.9h0M483.6 289.9h0M501.4 290.7h0M525.3 296.4h0M502.5 277.7h0M525.8 282.7h0M493.6 297.8h0M502.4 276.3h0M502.8 307.7h0M499.2 285.9h0M486.2 274.1h0M509.4 279.7h0M499.6 296.6h0M493.8 303.1h0M489.8 270.7h0M487.7 260.3h0M505.4 281.5h0M516.0 270.9h0M507.9 299.9h0M495.1 278.6h0M496.2 290.5h0M491.0 285.7h0M482.8 291.3h0M499.0 275.6h0M503.3 255.6h0M499.8 274.5h0M516.5 291.4h0M495.1 276.4h0M522.2 293.4h0M507.6 253.7h0M508.2 273.3h0M485.5 288.7h0M488.0 288.3h0M485.0 288.5h0M502.9 268.3h0M484.7 270.6h0M490.1 271.6h0M521.1 285.8h0M492.4 275.3h0M486.4 283.7h0M496.0 270.3h0M487.8 274.1h0M483.0 281.4h0M484.9 287.3h0M492.5 287.2h0M489.2 253.6h0M479.7 275.8h0M501.9 285.6h0M503.7 289.6h0M501.8 286.2h0M494.1 287.9h0M495.7 279.1h0M478.0 273.5h0M638.4 234.3h0M648.3 216.7h0M651.5 215.3h0M651.1 219.8h0M654.4 221.5h0M660.3 216.7h0M665.3 214.4h0M667.7 213.0h0M678.0 214.4h0M671.0 217.7h0M669.5 221.0h0M658.9 223.4h0M674.5 222.4h0M649.0 232.6h0M649.7 231.4h0M656.1 232.9h0M668.1 229.0h0M671.7 226.6h0M677.3 226.2h0M677.0 229.7h0M680.2 230.5h0M682.3 226.9h0M688.7 226.2h0M652.5 240.4h0M654.7 242.5h0M658.9 250.3h0M663.2 251.0h0M666.0 246.7h0M668.1 248.2h0M667.4 246.0h0M668.8 245.3h0M671.7 243.9h0M672.4 246.0h0M673.1 250.3h0M671.0 252.4h0M673.8 254.5h0M677.3 241.1h0M678.7 239.7h0M677.3 245.3h0M680.9 246.7h0M681.6 251.7h0M683.7 255.2h0M684.4 238.2h0M685.1 239.7h0M667.4 258.1h0M669.5 258.8h0M680.2 258.1h0M697.9 209.2h0M698.6 210.6h0M702.8 212.7h0M707.1 209.9h0M708.5 211.3h0M695.0 217.0h0M739.8 226.2h0M747.9 226.9h0M750.0 224.1h0M752.1 224.8h0M747.2 230.5h0M748.6 231.9h0M750.0 231.2h0M759.9 221.2h0M759.2 229.0h0M759.2 237.5h0M738.7 235.4h0M740.1 236.5h0M744.3 237.5h0M746.4 238.0h0M748.6 237.5h0M739.4 241.8h0M741.5 242.5h0M742.9 241.1h0M745.7 243.2h0M747.2 244.6h0M738.0 245.3h0M738.7 248.9h0M744.3 249.6h0M747.2 248.9h0M748.6 250.3h0M750.0 246.7h0M749.3 253.1h0M730.9 226.9h0M733.0 226.2h0M723.1 218.4h0M730.2 219.8h0M716.0 211.3h0M718.1 211.0h0M697.6 208.8h0M698.3 209.9h0M706.8 209.9h0M708.2 210.6h0M703.2 213.5h0M772.4 213.5h0M768.9 215.9h0M769.6 219.1h0M773.8 217.7h0M771.0 222.7h0M774.5 224.1h0M775.2 223.4h0M761.1 221.0h0M763.2 224.1h0M765.3 225.8h0M759.7 229.0h0M763.9 231.2h0M759.4 238.0h0M751.2 223.4h0M752.6 225.2h0M748.3 226.9h0M746.9 230.5h0M749.0 231.9h0M751.2 230.5h0M666.7 259.2h0M667.4 261.3h0M671.7 264.2h0M666.7 269.8h0M673.1 268.4h0M676.6 260.6h0M680.2 259.2h0M681.6 264.2h0M683.0 265.6h0M680.9 267.0h0M685.8 263.5h0M688.0 262.7h0M689.4 263.5h0M676.6 275.5h0M678.0 274.1h0M679.5 269.8h0M685.1 272.0h0M687.2 272.7h0M689.4 272.0h0M685.8 268.4h0M688.0 269.1h0M671.7 281.2h0M680.9 286.1h0M683.0 284.0h0M685.1 282.6h0M687.2 281.9h0M680.2 290.4h0M668.1 292.2h0M688.7 276.9h0M690.1 278.3h0M690.8 287.5h0M692.9 281.9h0M695.0 281.2h0M696.4 276.2h0M692.9 292.5h0M695.0 292.8h0M700.0 299.3h0M702.8 279.7h0M703.5 282.6h0M705.7 281.9h0M707.1 284.0h0M709.2 282.6h0M704.2 291.1h0M708.5 291.8h0M710.6 292.5h0M707.8 296.7h0M711.3 306.7h0M731.6 256.4h0M731.6 262.0h0M737.2 260.6h0M740.1 261.3h0M738.0 268.4h0M749.3 252.8h0M723.1 279.7h0M721.7 281.9h0M721.7 287.5h0M718.1 292.5h0M716.0 295.3h0M708.2 296.7h0M711.7 290.4h0M710.3 291.8h0M709.6 293.2h0M713.2 289.0h0M704.0 291.1h0M699.7 298.9h0M719.5 299.6h0M718.8 303.1h0M711.7 306.0h0M720.2 307.4h0M691.2 287.5h0M692.6 292.5h0M695.5 292.5h0M695.5 282.6h0M696.9 281.9h0M693.3 281.9h0M695.5 276.2h0M700.0 280.0h0M702.0 280.5h0M704.5 281.0h0M706.7 280.0h0M708.9 281.0h0M711.7 279.7h0M713.9 280.5h0M715.3 281.9h0M717.4 280.5h0M719.5 281.9h0M700.0 284.0h0M702.0 284.7h0M704.5 284.7h0M706.7 285.1h0M708.9 284.7h0M714.6 284.7h0M718.1 283.3h0M720.2 283.3h0M699.7 299.1h0M708.2 297.1h0M719.5 299.5h0M719.1 302.8h0M712.0 305.9h0M711.0 309.0h0M714.6 310.4h0M717.1 310.9h0M721.0 307.3h0M724.8 310.4h0M727.6 312.3h0M714.6 320.1h0M723.1 337.8h0M728.0 341.3h0M733.0 341.0h0M735.5 342.0h0M738.4 338.8h0M742.2 344.9h0M729.5 348.7h0M729.7 349.8h0M703.1 253.6h0M706.3 271.8h0M688.3 274.5h0M691.8 236.6h0M712.7 248.6h0M706.0 248.5h0M710.8 261.9h0M711.0 228.6h0M697.9 268.0h0M728.5 261.5h0M718.6 252.1h0M730.2 238.8h0M702.4 235.8h0M724.3 239.6h0M712.2 226.7h0M689.5 262.3h0M714.5 260.2h0M708.7 243.1h0M701.7 230.9h0M702.0 267.7h0M704.6 227.9h0M703.7 232.8h0M693.2 245.9h0M697.6 228.6h0M723.8 273.2h0M708.0 269.6h0M701.1 246.9h0M721.3 251.8h0M709.5 240.9h0M705.0 224.5h0M697.3 256.2h0M712.9 258.7h0M715.9 263.6h0M710.5 243.6h0M699.5 240.8h0M695.0 232.2h0M691.9 235.0h0M712.1 263.2h0M709.8 246.4h0M700.4 263.8h0M714.2 237.3h0M705.8 253.3h0M716.6 242.2h0M723.4 264.8h0M701.4 244.4h0M695.7 233.9h0M710.0 268.9h0M722.9 250.5h0M702.3 238.1h0M711.6 240.9h0M714.9 246.1h0M710.1 240.2h0M730.0 265.0h0M707.8 234.9h0M713.3 259.4h0M693.8 249.2h0M730.3 250.8h0M702.4 257.0h0M727.8 241.6h0M702.0 244.7h0M707.9 266.2h0M710.9 215.2h0M712.1 254.5h0M714.5 252.7h0M705.8 256.2h0M699.4 223.3h0M703.3 232.0h0M726.4 246.7h0M724.9 228.1h0M693.0 254.5h0M687.2 238.4h0M684.5 254.2h0M686.9 245.8h0M686.3 254.9h0M718.8 249.5h0M695.2 253.9h0M717.6 259.0h0M720.9 276.0h0M709.0 243.6h0M699.1 247.3h0M703.7 239.5h0M710.3 277.1h0M697.2 240.1h0M702.2 231.9h0M718.3 244.9h0M713.0 223.1h0M712.6 245.2h0M689.4 260.0h0M716.9 250.5h0M711.5 232.9h0M717.9 243.6h0M711.6 256.1h0M711.6 236.2h0M709.3 249.3h0M719.7 235.9h0M717.1 254.3h0M706.8 275.5h0M715.5 239.0h0M709.6 235.9h0M692.7 239.7h0M700.5 272.8h0M704.3 236.7h0M704.5 249.8h0M706.6 253.5h0M697.1 268.3h0M704.5 265.6h0M704.9 254.5h0M695.0 263.7h0M709.4 241.1h0M710.4 254.1h0M688.3 235.8h0M694.6 259.5h0M708.2 237.0h0M697.9 246.4h0M724.0 225.9h0M692.2 230.0h0M711.1 235.7h0M727.5 244.0h0M700.3 230.5h0M713.8 263.1h0M708.0 266.6h0M720.3 252.4h0M706.8 238.9h0M708.6 241.9h0M723.1 258.5h0M704.2 241.4h0M711.0 263.0h0M709.5 262.6h0M701.1 250.7h0M713.8 250.4h0M710.8 262.8h0M706.4 262.6h0M700.6 255.1h0M701.7 242.1h0M713.5 267.0h0M705.3 249.4h0M722.0 236.1h0M717.4 230.8h0M685.3 253.5h0M703.7 240.6h0M701.6 230.5h0M705.5 230.2h0M697.9 235.9h0M717.9 246.2h0M721.5 235.7h0M692.9 274.2h0M690.7 266.0h0M693.9 258.5h0M698.1 270.4h0M729.3 263.5h0M710.7 242.4h0M715.8 279.4h0M701.6 231.0h0M727.3 244.7h0M715.3 251.0h0M710.0 244.0h0M705.3 223.2h0M700.4 235.3h0M720.3 243.6h0M708.2 223.2h0M707.8 271.1h0M708.9 261.5h0M703.4 239.1h0M718.0 241.5h0M695.0 246.8h0M702.6 264.1h0M715.3 226.7h0M712.9 228.3h0M709.0 256.8h0M701.0 240.4h0M715.8 243.8h0M694.0 272.8h0M717.1 255.4h0M711.0 263.6h0M708.1 260.3h0M710.9 238.4h0M719.4 251.2h0M698.0 242.0h0M690.5 258.9h0M714.8 265.6h0M711.9 274.1h0M701.7 236.8h0M696.1 250.9h0M699.3 234.1h0M700.5 250.1h0M691.7 247.5h0M706.2 272.6h0M708.1 228.2h0M709.3 250.3h0M714.9 244.6h0M698.0 244.7h0M721.0 273.5h0M700.9 270.2h0M705.7 247.4h0M705.1 246.3h0M704.5 237.0h0M706.4 232.1h0M712.6 237.5h0M711.8 245.4h0M685.6 264.9h0M709.5 246.2h0M702.3 274.1h0M703.3 261.5h0M708.4 227.2h0M714.4 224.3h0M711.2 253.2h0M708.7 235.8h0M722.1 273.6h0M695.5 241.3h0M724.7 240.5h0M717.1 232.3h0M698.7 250.9h0M711.2 225.3h0M693.9 254.7h0M720.7 254.7h0M710.1 253.5h0M692.0 252.9h0M716.3 255.9h0M692.6 232.6h0M718.9 226.2h0M693.7 270.7h0M695.6 236.0h0M713.3 258.8h0M704.1 225.5h0M700.0 249.4h0M695.4 232.4h0M720.4 255.1h0M715.0 260.4h0M694.4 254.3h0M719.7 257.2h0M692.7 223.7h0M696.8 255.2h0M703.9 251.2h0M691.5 259.5h0M697.6 263.9h0M703.7 233.8h0M696.2 244.6h0M718.3 259.7h0M722.0 246.9h0M684.5 238.6h0M695.5 236.6h0M694.8 264.9h0M702.6 226.7h0M719.4 239.8h0M707.4 281.5h0M694.3 262.5h0M702.4 230.2h0M703.1 249.6h0M708.1 223.9h0M715.6 234.1h0M709.5 250.0h0M699.6 255.9h0M697.7 232.8h0M689.6 219.0h0M697.9 214.0h0M701.8 238.8h0M724.8 229.4h0M719.1 252.4h0M709.3 237.4h0M696.4 241.9h0M705.3 255.4h0M699.9 270.2h0M707.4 245.0h0M685.9 244.0h0M713.8 253.6h0M711.8 243.5h0M717.6 254.0h0M718.9 244.9h0M698.3 223.9h0M723.7 238.2h0M693.9 214.9h0M712.5 226.3h0M706.8 251.2h0M722.4 236.2h0M683.6 260.0h0M708.9 237.4h0M705.6 275.3h0M706.6 237.1h0M705.1 255.7h0M710.2 252.1h0M709.8 229.4h0M713.0 262.6h0M713.6 246.0h0M705.1 249.9h0M706.7 222.3h0M704.6 266.0h0M702.3 239.2h0M713.2 248.5h0M698.1 249.8h0M725.9 274.9h0M708.0 244.9h0M720.0 254.4h0M712.6 246.4h0M691.3 225.7h0M705.4 231.0h0M715.6 261.5h0M723.4 249.1h0M728.8 266.7h0M710.9 259.0h0M718.6 255.2h0M726.0 255.1h0M704.5 240.4h0M699.5 250.2h0M685.6 230.8h0M716.1 216.9h0M688.4 238.6h0M701.7 248.5h0M716.1 251.8h0M713.2 238.6h0M706.6 236.7h0M705.0 256.1h0M712.0 218.9h0M693.1 277.3h0M692.8 244.1h0M699.5 248.4h0M693.5 263.0h0M696.5 224.5h0M707.6 268.4h0M722.3 267.2h0M708.9 239.0h0M719.3 238.1h0M697.2 248.3h0M692.0 244.5h0M695.4 248.8h0M717.4 239.0h0M711.7 261.8h0M697.3 246.3h0M702.1 274.6h0M700.5 249.2h0M690.0 233.4h0M713.1 243.0h0M714.8 248.4h0M717.3 236.6h0M701.3 224.3h0M707.7 240.8h0M715.5 239.3h0M728.2 264.6h0M712.6 255.2h0M718.8 254.4h0M725.1 261.3h0M706.3 254.8h0M709.4 266.2h0M704.1 250.0h0M692.6 258.7h0M710.0 238.5h0M727.0 249.0h0M693.9 265.8h0M711.2 248.3h0M708.1 245.4h0M697.8 250.3h0M684.6 248.6h0M720.5 268.7h0M701.4 284.6h0M712.6 244.1h0M710.6 239.9h0M720.5 235.6h0M698.4 232.0h0M697.0 246.8h0M734.4 255.8h0M724.9 252.5h0M721.6 233.8h0M692.5 283.3h0M713.6 224.7h0M716.8 248.1h0M704.4 265.6h0M691.0 272.4h0M711.9 243.2h0M689.3 281.4h0M703.0 227.9h0M705.9 259.3h0M716.8 276.5h0M715.9 250.3h0M692.2 268.0h0M699.8 276.9h0M694.8 256.5h0M730.4 257.2h0M723.6 239.4h0M690.7 231.3h0M716.8 240.3h0M728.9 245.6h0M727.1 257.4h0M692.9 252.4h0M715.1 259.9h0M706.8 270.5h0M721.7 267.7h0M697.3 215.3h0M716.4 237.2h0M700.6 247.3h0M712.7 221.5h0M706.3 274.8h0M687.7 246.4h0M728.6 265.8h0M716.9 254.1h0M688.1 253.4h0M694.8 253.7h0M697.5 231.4h0M708.2 269.7h0M701.3 254.7h0M718.4 260.3h0M690.4 241.9h0M713.2 251.9h0M733.0 261.6h0M695.7 263.1h0M724.0 262.6h0M715.4 227.3h0M707.4 261.6h0M702.7 245.6h0M714.5 240.4h0M695.5 248.7h0M706.8 265.8h0M705.7 231.5h0M714.7 237.6h0M718.4 241.4h0M716.1 256.5h0M705.2 229.6h0M702.4 275.3h0M710.6 270.9h0M708.9 251.3h0M694.4 257.7h0M696.2 237.0h0M722.6 234.2h0M700.1 273.9h0M694.2 253.4h0M708.4 267.3h0M732.2 257.0h0M689.8 228.5h0M701.0 264.8h0M709.8 255.7h0M703.5 274.1h0M692.0 283.8h0M724.7 263.0h0M707.6 246.0h0M707.8 241.8h0M701.9 237.2h0M718.5 252.7h0M714.0 238.5h0M690.5 235.3h0M710.9 230.9h0M716.0 234.8h0M701.3 254.8h0" stroke="#000" stroke-width="2.6" stroke-linecap="round" fill="none"/>
<text x="53.4" y="212.8" font-size="24.5" text-anchor="start">c</text>
<line x1="112.5" y1="211.5" x2="112.5" y2="381.6" stroke="#858585" stroke-width="1"/>
<line x1="109.3" y1="211.5" x2="112.5" y2="211.5" stroke="#858585" stroke-width="1"/>
<text x="108.3" y="214.9" font-size="10" text-anchor="end">0.8</text>
<line x1="109.3" y1="253.90000000000003" x2="112.5" y2="253.90000000000003" stroke="#858585" stroke-width="1"/>
<text x="108.3" y="257.3" font-size="10" text-anchor="end">0.6</text>
<line x1="109.3" y1="296.3" x2="112.5" y2="296.3" stroke="#858585" stroke-width="1"/>
<text x="108.3" y="299.7" font-size="10" text-anchor="end">0.4</text>
<line x1="109.3" y1="338.70000000000005" x2="112.5" y2="338.70000000000005" stroke="#858585" stroke-width="1"/>
<text x="108.3" y="342.1" font-size="10" text-anchor="end">0.2</text>
<line x1="109.3" y1="381.1" x2="112.5" y2="381.1" stroke="#858585" stroke-width="1"/>
<text x="108.3" y="384.5" font-size="10" text-anchor="end">0</text>
<line x1="120" y1="388.5" x2="311.5" y2="388.5" stroke="#858585" stroke-width="1"/>
<line x1="120.0" y1="388.5" x2="120.0" y2="391.2" stroke="#858585" stroke-width="1"/>
<text x="120.0" y="401.8" font-size="10" text-anchor="middle">0</text>
<line x1="158.3" y1="388.5" x2="158.3" y2="391.2" stroke="#858585" stroke-width="1"/>
<text x="158.3" y="401.8" font-size="10" text-anchor="middle">100</text>
<line x1="196.6" y1="388.5" x2="196.6" y2="391.2" stroke="#858585" stroke-width="1"/>
<text x="196.6" y="401.8" font-size="10" text-anchor="middle">200</text>
<line x1="234.89999999999998" y1="388.5" x2="234.89999999999998" y2="391.2" stroke="#858585" stroke-width="1"/>
<text x="234.89999999999998" y="401.8" font-size="10" text-anchor="middle">300</text>
<line x1="273.2" y1="388.5" x2="273.2" y2="391.2" stroke="#858585" stroke-width="1"/>
<text x="273.2" y="401.8" font-size="10" text-anchor="middle">400</text>
<line x1="311.5" y1="388.5" x2="311.5" y2="391.2" stroke="#858585" stroke-width="1"/>
<text x="311.5" y="401.8" font-size="10" text-anchor="middle">500</text>
<text x="224" y="420" font-size="11.7" text-anchor="middle">Distance(Kb)</text>
<text x="81.9" y="292.3" font-size="13" text-anchor="middle" transform="rotate(-90 81.9 292.3)">r<tspan font-size="8.5" dy="-4.8">2</tspan></text>
<path d="M120.2 209.6 L120.3 214.2 L120.3 218.3 L120.4 222.1 L120.4 225.5 L120.5 228.5 L120.5 231.2 L120.6 233.8 L120.6 236.2 L120.7 238.5 L120.7 240.5 L120.8 242.4 L120.8 244.2 L120.9 245.7 L121.0 247.1 L121.0 248.3 L121.1 249.4 L121.1 250.4 L121.2 251.3 L121.2 252.1 L121.3 252.8 L121.3 253.5 L121.4 254.0 L121.4 254.5 L121.5 254.9 L121.6 255.6 L122.1 258.1 L122.6 259.8 L123.1 261.4 L123.6 262.9 L124.1 264.4 L124.6 265.7 L125.1 267.2 L125.6 268.1 L126.1 269.6 L126.6 270.9 L127.1 272.1 L127.6 273.3 L128.1 274.5 L128.6 275.5 L129.1 276.7 L129.6 277.6 L130.1 278.6 L130.6 279.7 L131.1 280.5 L131.6 281.2 L132.1 282.0 L132.6 282.7 L133.1 283.2 L133.6 283.9 L134.1 284.4 L134.6 284.9 L135.1 285.4 L135.6 285.9 L136.1 286.2 L136.6 286.9 L137.1 287.4 L137.6 287.7 L138.1 288.2 L138.6 288.7 L139.1 289.2 L139.6 289.8 L140.1 290.1 L140.6 290.6 L141.1 291.3 L141.6 291.5 L142.1 292.0 L142.6 292.4 L143.1 292.9 L143.6 293.5 L144.1 293.7 L144.6 293.9 L145.1 294.3 L145.6 294.8 L146.1 295.1 L146.6 295.4 L147.1 295.3 L147.6 295.9 L148.1 296.1 L148.6 296.5 L149.1 296.8 L149.6 297.1 L150.1 297.3 L150.6 297.6 L151.1 297.6 L151.6 297.9 L152.1 298.0 L152.6 298.0 L153.1 298.2 L153.6 298.5 L154.1 298.9 L154.6 299.1 L155.1 299.1 L155.6 299.5 L156.1 299.9 L156.6 300.2 L157.1 300.5 L157.6 300.6 L158.1 301.0 L158.6 301.4 L159.1 301.7 L159.6 301.8 L160.1 301.9 L160.6 302.1 L161.1 302.5 L161.6 302.7 L162.1 303.1 L162.6 303.4 L163.1 303.8 L163.6 303.9 L164.1 304.1 L164.6 304.2 L165.1 304.5 L165.6 304.3 L166.1 304.4 L166.6 304.6 L167.1 304.9 L167.6 305.1 L168.1 305.2 L168.6 305.4 L169.1 305.9 L169.6 306.1 L170.1 306.2 L170.6 306.6 L171.1 306.9 L171.6 307.3 L172.1 307.6 L172.6 307.8 L173.1 307.8 L173.6 308.0 L174.1 308.0 L174.6 308.3 L175.1 308.4 L175.6 308.5 L176.1 308.5 L176.6 308.8 L177.1 309.0 L177.6 309.2 L178.1 309.2 L178.6 309.6 L179.1 309.7 L179.6 309.9 L180.1 309.9 L180.6 310.0 L181.1 310.3 L181.6 310.5 L182.1 310.5 L182.6 310.7 L183.1 310.9 L183.6 311.2 L184.1 311.3 L184.6 311.4 L185.1 311.5 L185.6 311.6 L186.1 311.6 L186.6 311.7 L187.1 311.8 L187.6 312.2 L188.1 312.3 L188.6 312.4 L189.1 312.7 L189.6 312.9 L190.1 313.3 L190.6 313.3 L191.1 313.4 L191.6 313.5 L192.1 313.7 L192.6 313.8 L193.1 314.0 L193.6 314.1 L194.1 314.4 L194.6 314.6 L195.1 314.7 L195.6 314.8 L196.1 314.9 L196.6 314.9 L197.1 315.1 L197.6 315.3 L198.1 315.5 L198.6 315.6 L199.1 315.7 L199.6 315.8 L200.1 316.0 L200.6 315.9 L201.1 316.0 L201.6 315.9 L202.1 316.2 L202.6 316.3 L203.1 316.5 L203.6 316.5 L204.1 316.5 L204.6 316.6 L205.1 316.6 L205.6 316.6 L206.1 316.8 L206.6 316.9 L207.1 317.1 L207.6 317.4 L208.1 317.6 L208.6 317.9 L209.1 318.0 L209.6 317.9 L210.1 318.0 L210.6 317.9 L211.1 318.0 L211.6 318.1 L212.1 318.3 L212.6 318.4 L213.1 318.6 L213.6 318.7 L214.1 318.9 L214.6 318.9 L215.1 319.1 L215.6 319.1 L216.1 319.2 L216.6 319.3 L217.1 319.4 L217.6 319.3 L218.1 319.5 L218.6 319.5 L219.1 319.7 L219.6 319.9 L220.1 319.9 L220.6 320.1 L221.1 320.4 L221.6 320.4 L222.1 320.7 L222.6 320.7 L223.1 320.5 L223.6 320.8 L224.1 320.9 L224.6 321.0 L225.1 321.1 L225.6 321.2 L226.1 321.4 L226.6 321.6 L227.1 321.7 L227.6 321.8 L228.1 321.8 L228.6 322.2 L229.1 322.3 L229.6 322.2 L230.1 322.4 L230.6 322.5 L231.1 322.8 L231.6 323.0 L232.1 322.9 L232.6 323.1 L233.1 323.3 L233.6 323.6 L234.1 323.7 L234.6 323.7 L235.1 323.8 L235.6 323.9 L236.1 323.9 L236.6 324.2 L237.1 324.1 L237.6 324.2 L238.1 324.2 L238.6 324.2 L239.1 324.3 L239.6 324.6 L240.1 324.6 L240.6 324.8 L241.1 325.0 L241.6 325.1 L242.1 325.4 L242.6 325.5 L243.1 325.5 L243.6 325.6 L244.1 325.7 L244.6 325.8 L245.1 325.8 L245.6 325.9 L246.1 326.1 L246.6 326.2 L247.1 326.2 L247.6 326.2 L248.1 326.4 L248.6 326.4 L249.1 326.4 L249.6 326.5 L250.1 326.5 L250.6 326.8 L251.1 326.9 L251.6 326.9 L252.1 327.1 L252.6 327.1 L253.1 327.0 L253.6 327.3 L254.1 327.2 L254.6 327.4 L255.1 327.6 L255.6 327.7 L256.1 327.9 L256.6 327.9 L257.1 327.8 L257.6 328.0 L258.1 327.8 L258.6 327.8 L259.1 327.8 L259.6 327.8 L260.1 328.0 L260.6 328.0 L261.1 328.2 L261.6 328.3 L262.1 328.6 L262.6 328.8 L263.1 328.9 L263.6 329.0 L264.1 329.1 L264.6 329.1 L265.1 329.3 L265.6 329.3 L266.1 329.3 L266.6 329.3 L267.1 329.5 L267.6 329.7 L268.1 329.7 L268.6 329.6 L269.1 329.5 L269.6 329.5 L270.1 329.5 L270.6 329.5 L271.1 329.7 L271.6 329.7 L272.1 330.2 L272.6 330.5 L273.1 330.5 L273.6 330.8 L274.1 330.9 L274.6 330.9 L275.1 331.1 L275.6 330.8 L276.1 330.6 L276.6 330.7 L277.1 330.7 L277.6 330.9 L278.1 330.9 L278.6 330.8 L279.1 331.1 L279.6 331.3 L280.1 331.3 L280.6 331.6 L281.1 331.5 L281.6 331.6 L282.1 331.8 L282.6 331.8 L283.1 331.9 L283.6 332.0 L284.1 332.0 L284.6 332.2 L285.1 332.3 L285.6 332.3 L286.1 332.3 L286.6 332.4 L287.1 332.5 L287.6 332.5 L288.1 332.4 L288.6 332.5 L289.1 332.6 L289.6 332.4 L290.1 332.4 L290.6 332.6 L291.1 332.6 L291.6 332.5 L292.1 332.5 L292.6 332.6 L293.1 332.9 L293.6 332.9 L294.1 332.9 L294.6 333.1 L295.1 333.2 L295.6 333.4 L296.1 333.5 L296.6 333.6 L297.1 333.7 L297.6 333.7 L298.1 333.7 L298.6 333.8 L299.1 333.9 L299.6 333.9 L300.1 333.9 L300.6 334.1 L301.1 334.3 L301.6 334.4 L302.1 334.2 L302.6 334.3 L303.1 334.3 L303.6 334.4 L304.1 334.3 L304.6 334.3 L305.1 334.3 L305.6 334.5 L306.1 334.6 L306.6 334.6 L307.1 334.6 L307.6 334.5 L308.1 334.6 L308.6 334.8 L309.1 335.0 L309.6 334.8 L310.1 335.0 L310.6 335.2 L311.1 335.5 L311.6 335.6 L312.1 335.6 L312.6 335.7 L313.1 335.9 L313.6 335.7 L314.1 335.8 L314.6 335.8 L315.1 335.9 L315.6 335.7 L316.1 335.8 L316.6 335.8 L317.1 335.9 L317.6 335.9 L318.1 336.0 L318.6 335.9 L319.1 336.1 L319.6 336.1" fill="none" stroke="#1a1a1a" stroke-width="1.2" stroke-linejoin="round"/>
<path d="M120.2 216.8 L120.3 221.0 L120.3 224.7 L120.4 228.2 L120.4 231.3 L120.5 234.2 L120.5 236.8 L120.6 239.1 L120.6 241.3 L120.7 243.4 L120.7 245.4 L120.8 247.3 L120.8 249.1 L120.9 250.7 L121.0 252.3 L121.0 253.8 L121.1 255.1 L121.1 256.3 L121.2 257.4 L121.2 258.5 L121.3 259.4 L121.3 260.2 L121.4 260.9 L121.4 261.5 L121.5 262.1 L121.6 263.0 L122.1 266.4 L122.6 269.0 L123.1 271.2 L123.6 273.2 L124.1 275.0 L124.6 276.9 L125.1 278.9 L125.6 280.6 L126.1 282.4 L126.6 284.1 L127.1 285.8 L127.6 287.4 L128.1 288.9 L128.6 290.2 L129.1 291.6 L129.6 292.9 L130.1 294.2 L130.6 295.7 L131.1 296.6 L131.6 297.6 L132.1 298.4 L132.6 299.4 L133.1 300.4 L133.6 301.2 L134.1 302.1 L134.6 302.9 L135.1 303.8 L135.6 304.9 L136.1 305.6 L136.6 306.4 L137.1 307.3 L137.6 307.8 L138.1 308.5 L138.6 309.2 L139.1 309.7 L139.6 310.3 L140.1 310.7 L140.6 311.1 L141.1 311.7 L141.6 312.3 L142.1 312.7 L142.6 313.3 L143.1 314.0 L143.6 314.4 L144.1 314.9 L144.6 315.4 L145.1 315.8 L145.6 316.0 L146.1 316.2 L146.6 316.5 L147.1 316.9 L147.6 317.1 L148.1 317.3 L148.6 317.6 L149.1 318.1 L149.6 318.4 L150.1 318.6 L150.6 318.8 L151.1 319.0 L151.6 319.2 L152.1 319.4 L152.6 319.6 L153.1 320.0 L153.6 320.2 L154.1 320.4 L154.6 320.6 L155.1 320.9 L155.6 321.0 L156.1 321.1 L156.6 321.2 L157.1 321.4 L157.6 321.6 L158.1 321.8 L158.6 321.8 L159.1 322.2 L159.6 322.5 L160.1 322.7 L160.6 322.9 L161.1 323.1 L161.6 323.2 L162.1 323.4 L162.6 323.5 L163.1 323.6 L163.6 323.7 L164.1 323.7 L164.6 323.9 L165.1 324.3 L165.6 324.5 L166.1 324.7 L166.6 324.8 L167.1 325.0 L167.6 325.2 L168.1 325.4 L168.6 325.3 L169.1 325.6 L169.6 325.7 L170.1 325.8 L170.6 325.9 L171.1 326.2 L171.6 326.1 L172.1 326.3 L172.6 326.3 L173.1 326.3 L173.6 326.6 L174.1 326.8 L174.6 326.8 L175.1 327.2 L175.6 327.2 L176.1 327.4 L176.6 327.9 L177.1 328.0 L177.6 327.9 L178.1 327.7 L178.6 327.7 L179.1 328.0 L179.6 328.1 L180.1 328.0 L180.6 328.1 L181.1 328.4 L181.6 328.8 L182.1 329.1 L182.6 329.2 L183.1 329.4 L183.6 329.5 L184.1 329.6 L184.6 329.8 L185.1 330.0 L185.6 330.3 L186.1 330.3 L186.6 330.2 L187.1 330.4 L187.6 330.5 L188.1 330.7 L188.6 330.8 L189.1 330.7 L189.6 330.8 L190.1 331.2 L190.6 331.3 L191.1 331.5 L191.6 331.5 L192.1 331.6 L192.6 331.8 L193.1 332.1 L193.6 332.1 L194.1 332.3 L194.6 332.3 L195.1 332.5 L195.6 332.5 L196.1 332.7 L196.6 332.7 L197.1 332.7 L197.6 332.8 L198.1 332.9 L198.6 333.1 L199.1 333.1 L199.6 333.2 L200.1 333.4 L200.6 333.5 L201.1 333.6 L201.6 333.7 L202.1 333.8 L202.6 333.9 L203.1 334.0 L203.6 334.2 L204.1 334.3 L204.6 334.6 L205.1 334.9 L205.6 335.1 L206.1 335.2 L206.6 335.2 L207.1 335.2 L207.6 335.3 L208.1 335.1 L208.6 335.1 L209.1 335.0 L209.6 335.2 L210.1 335.3 L210.6 335.5 L211.1 335.6 L211.6 335.8 L212.1 335.9 L212.6 336.2 L213.1 336.3 L213.6 336.5 L214.1 336.5 L214.6 336.6 L215.1 336.9 L215.6 336.9 L216.1 337.0 L216.6 337.0 L217.1 337.1 L217.6 337.0 L218.1 337.1 L218.6 337.2 L219.1 337.3 L219.6 337.3 L220.1 337.4 L220.6 337.5 L221.1 337.6 L221.6 337.7 L222.1 337.7 L222.6 337.7 L223.1 337.7 L223.6 337.8 L224.1 337.9 L224.6 338.1 L225.1 338.4 L225.6 338.6 L226.1 338.9 L226.6 339.0 L227.1 339.1 L227.6 339.0 L228.1 339.1 L228.6 338.9 L229.1 338.8 L229.6 338.9 L230.1 339.1 L230.6 339.3 L231.1 339.4 L231.6 339.6 L232.1 339.8 L232.6 340.0 L233.1 340.0 L233.6 340.0 L234.1 340.3 L234.6 340.5 L235.1 340.7 L235.6 340.9 L236.1 340.9 L236.6 341.1 L237.1 341.2 L237.6 341.1 L238.1 341.1 L238.6 340.8 L239.1 340.9 L239.6 341.1 L240.1 341.0 L240.6 340.9 L241.1 340.9 L241.6 341.0 L242.1 341.3 L242.6 341.5 L243.1 341.5 L243.6 341.5 L244.1 341.8 L244.6 342.0 L245.1 342.0 L245.6 342.1 L246.1 341.9 L246.6 342.0 L247.1 342.1 L247.6 342.1 L248.1 342.3 L248.6 342.4 L249.1 342.3 L249.6 342.5 L250.1 342.6 L250.6 342.7 L251.1 342.7 L251.6 342.5 L252.1 342.6 L252.6 342.8 L253.1 342.9 L253.6 342.8 L254.1 343.1 L254.6 343.0 L255.1 343.2 L255.6 343.4 L256.1 343.4 L256.6 343.5 L257.1 343.6 L257.6 343.6 L258.1 343.9 L258.6 344.0 L259.1 343.9 L259.6 343.9 L260.1 344.0 L260.6 344.0 L261.1 343.9 L261.6 344.1 L262.1 344.1 L262.6 344.2 L263.1 344.4 L263.6 344.4 L264.1 344.5 L264.6 344.6 L265.1 344.6 L265.6 344.8 L266.1 344.8 L266.6 344.8 L267.1 344.8 L267.6 344.9 L268.1 345.0 L268.6 345.0 L269.1 345.0 L269.6 345.2 L270.1 345.1 L270.6 345.2 L271.1 345.2 L271.6 345.1 L272.1 345.1 L272.6 345.1 L273.1 345.0 L273.6 345.2 L274.1 345.3 L274.6 345.5 L275.1 345.7 L275.6 345.9 L276.1 345.9 L276.6 345.9 L277.1 345.8 L277.6 345.7 L278.1 345.9 L278.6 345.9 L279.1 345.9 L279.6 346.1 L280.1 346.2 L280.6 346.3 L281.1 346.3 L281.6 346.1 L282.1 346.1 L282.6 346.3 L283.1 346.2 L283.6 346.2 L284.1 346.2 L284.6 346.4 L285.1 346.3 L285.6 346.4 L286.1 346.3 L286.6 346.4 L287.1 346.6 L287.6 346.6 L288.1 346.5 L288.6 346.8 L289.1 346.9 L289.6 346.7 L290.1 346.8 L290.6 346.8 L291.1 347.0 L291.6 347.2 L292.1 347.0 L292.6 347.0 L293.1 347.2 L293.6 347.2 L294.1 347.1 L294.6 346.8 L295.1 346.8 L295.6 346.7 L296.1 346.8 L296.6 346.8 L297.1 346.9 L297.6 347.1 L298.1 347.4 L298.6 347.6 L299.1 347.7 L299.6 347.8 L300.1 347.8 L300.6 347.9 L301.1 348.1 L301.6 348.0 L302.1 348.0 L302.6 348.1 L303.1 347.9 L303.6 347.8 L304.1 347.9 L304.6 347.7 L305.1 347.8 L305.6 347.7 L306.1 347.9 L306.6 348.1 L307.1 348.3 L307.6 348.4 L308.1 348.6 L308.6 348.8 L309.1 348.9 L309.6 348.8 L310.1 348.8 L310.6 348.8 L311.1 348.6 L311.6 348.5 L312.1 348.2 L312.6 348.2 L313.1 348.3 L313.6 348.3 L314.1 348.4 L314.6 348.4 L315.1 348.4 L315.6 348.5 L316.1 348.4 L316.6 348.5 L317.1 348.4 L317.6 348.3 L318.1 348.4 L318.6 348.6 L319.1 348.7 L319.6 348.9" fill="none" stroke="#e8262a" stroke-width="1.2" stroke-linejoin="round"/>
<path d="M120.2 216.8 L120.3 221.0 L120.3 224.7 L120.4 228.2 L120.4 231.3 L120.5 234.2 L120.5 236.8 L120.6 239.1 L120.6 241.3 L120.7 243.3 L120.7 245.3 L120.8 247.2 L120.8 248.9 L120.9 250.6 L121.0 252.2 L121.0 253.6 L121.1 254.9 L121.1 256.1 L121.2 257.2 L121.2 258.2 L121.3 259.1 L121.3 259.9 L121.4 260.6 L121.4 261.2 L121.5 261.8 L121.6 262.7 L122.1 265.9 L122.6 268.3 L123.1 270.4 L123.6 272.2 L124.1 274.0 L124.6 275.9 L125.1 277.6 L125.6 279.5 L126.1 281.1 L126.6 282.7 L127.1 284.3 L127.6 286.1 L128.1 287.6 L128.6 289.0 L129.1 290.3 L129.6 291.6 L130.1 293.0 L130.6 294.1 L131.1 294.9 L131.6 296.0 L132.1 297.1 L132.6 298.2 L133.1 299.3 L133.6 300.3 L134.1 301.6 L134.6 302.6 L135.1 303.6 L135.6 304.4 L136.1 305.4 L136.6 306.0 L137.1 306.7 L137.6 307.2 L138.1 307.8 L138.6 308.3 L139.1 308.7 L139.6 309.2 L140.1 309.7 L140.6 310.3 L141.1 310.8 L141.6 311.3 L142.1 311.7 L142.6 312.3 L143.1 312.6 L143.6 313.2 L144.1 313.6 L144.6 314.0 L145.1 314.5 L145.6 314.8 L146.1 315.1 L146.6 315.4 L147.1 315.4 L147.6 315.5 L148.1 315.6 L148.6 316.0 L149.1 316.4 L149.6 316.5 L150.1 316.9 L150.6 317.4 L151.1 317.7 L151.6 318.0 L152.1 318.1 L152.6 318.3 L153.1 318.7 L153.6 319.0 L154.1 319.3 L154.6 319.7 L155.1 319.9 L155.6 320.3 L156.1 320.5 L156.6 320.8 L157.1 320.9 L157.6 321.0 L158.1 321.1 L158.6 321.4 L159.1 321.5 L159.6 321.7 L160.1 321.7 L160.6 321.9 L161.1 322.1 L161.6 322.3 L162.1 322.4 L162.6 322.5 L163.1 322.6 L163.6 322.7 L164.1 322.8 L164.6 323.0 L165.1 323.1 L165.6 323.3 L166.1 323.4 L166.6 323.7 L167.1 324.0 L167.6 324.3 L168.1 324.3 L168.6 324.5 L169.1 324.7 L169.6 325.0 L170.1 325.0 L170.6 325.1 L171.1 325.3 L171.6 325.4 L172.1 325.7 L172.6 325.6 L173.1 325.6 L173.6 325.9 L174.1 325.9 L174.6 325.9 L175.1 326.2 L175.6 326.3 L176.1 326.5 L176.6 326.6 L177.1 326.7 L177.6 327.0 L178.1 327.2 L178.6 327.2 L179.1 327.3 L179.6 327.4 L180.1 327.6 L180.6 327.7 L181.1 327.7 L181.6 327.7 L182.1 328.0 L182.6 328.2 L183.1 328.4 L183.6 328.6 L184.1 328.8 L184.6 328.9 L185.1 329.0 L185.6 328.8 L186.1 329.0 L186.6 329.0 L187.1 329.0 L187.6 328.8 L188.1 329.1 L188.6 329.5 L189.1 329.6 L189.6 329.7 L190.1 329.8 L190.6 330.0 L191.1 330.3 L191.6 330.3 L192.1 330.4 L192.6 330.7 L193.1 330.9 L193.6 330.9 L194.1 331.2 L194.6 331.3 L195.1 331.3 L195.6 331.4 L196.1 331.4 L196.6 331.5 L197.1 331.7 L197.6 331.7 L198.1 331.9 L198.6 332.2 L199.1 332.2 L199.6 332.4 L200.1 332.4 L200.6 332.3 L201.1 332.5 L201.6 332.4 L202.1 332.6 L202.6 332.7 L203.1 332.8 L203.6 332.9 L204.1 333.3 L204.6 333.6 L205.1 333.8 L205.6 333.9 L206.1 333.9 L206.6 334.1 L207.1 334.2 L207.6 334.2 L208.1 334.2 L208.6 334.2 L209.1 334.1 L209.6 334.1 L210.1 334.2 L210.6 334.4 L211.1 334.6 L211.6 334.6 L212.1 334.6 L212.6 334.9 L213.1 335.2 L213.6 335.2 L214.1 335.3 L214.6 335.3 L215.1 335.6 L215.6 335.9 L216.1 336.0 L216.6 336.1 L217.1 336.2 L217.6 336.2 L218.1 336.2 L218.6 336.3 L219.1 336.3 L219.6 336.1 L220.1 336.3 L220.6 336.5 L221.1 336.8 L221.6 337.0 L222.1 336.9 L222.6 337.0 L223.1 337.2 L223.6 337.3 L224.1 337.1 L224.6 337.0 L225.1 337.0 L225.6 337.2 L226.1 337.3 L226.6 337.6 L227.1 337.7 L227.6 338.0 L228.1 338.2 L228.6 338.3 L229.1 338.5 L229.6 338.6 L230.1 338.7 L230.6 338.7 L231.1 338.6 L231.6 338.7 L232.1 338.7 L232.6 338.8 L233.1 339.0 L233.6 339.0 L234.1 339.1 L234.6 339.3 L235.1 339.4 L235.6 339.4 L236.1 339.3 L236.6 339.5 L237.1 339.6 L237.6 339.5 L238.1 339.4 L238.6 339.4 L239.1 339.5 L239.6 339.7 L240.1 339.7 L240.6 339.8 L241.1 340.0 L241.6 340.2 L242.1 340.5 L242.6 340.6 L243.1 340.7 L243.6 340.9 L244.1 341.0 L244.6 341.2 L245.1 341.1 L245.6 340.9 L246.1 341.1 L246.6 341.2 L247.1 341.3 L247.6 341.4 L248.1 341.6 L248.6 341.7 L249.1 341.8 L249.6 341.8 L250.1 341.8 L250.6 341.8 L251.1 341.7 L251.6 341.6 L252.1 341.6 L252.6 341.8 L253.1 341.8 L253.6 341.8 L254.1 341.9 L254.6 342.1 L255.1 342.3 L255.6 342.4 L256.1 342.3 L256.6 342.5 L257.1 342.7 L257.6 342.9 L258.1 343.0 L258.6 343.0 L259.1 343.2 L259.6 343.3 L260.1 343.2 L260.6 343.2 L261.1 343.1 L261.6 343.3 L262.1 343.2 L262.6 343.2 L263.1 343.5 L263.6 343.5 L264.1 343.5 L264.6 343.5 L265.1 343.3 L265.6 343.6 L266.1 343.7 L266.6 343.7 L267.1 343.8 L267.6 344.0 L268.1 344.2 L268.6 344.2 L269.1 344.1 L269.6 344.1 L270.1 344.3 L270.6 344.3 L271.1 344.4 L271.6 344.6 L272.1 344.6 L272.6 344.6 L273.1 344.7 L273.6 344.7 L274.1 344.8 L274.6 344.8 L275.1 344.6 L275.6 344.8 L276.1 344.9 L276.6 344.9 L277.1 344.8 L277.6 344.8 L278.1 344.8 L278.6 344.9 L279.1 344.9 L279.6 345.0 L280.1 344.9 L280.6 345.1 L281.1 345.2 L281.6 345.1 L282.1 345.0 L282.6 344.9 L283.1 345.0 L283.6 345.0 L284.1 345.1 L284.6 345.3 L285.1 345.6 L285.6 345.9 L286.1 345.9 L286.6 346.2 L287.1 346.3 L287.6 346.2 L288.1 346.2 L288.6 346.2 L289.1 346.2 L289.6 346.3 L290.1 346.2 L290.6 346.2 L291.1 346.3 L291.6 346.3 L292.1 346.2 L292.6 346.3 L293.1 346.1 L293.6 346.2 L294.1 346.2 L294.6 346.4 L295.1 346.4 L295.6 346.5 L296.1 346.4 L296.6 346.5 L297.1 346.5 L297.6 346.4 L298.1 346.5 L298.6 346.4 L299.1 346.5 L299.6 346.5 L300.1 346.5 L300.6 346.6 L301.1 346.7 L301.6 346.6 L302.1 346.6 L302.6 346.6 L303.1 346.7 L303.6 346.7 L304.1 346.7 L304.6 346.6 L305.1 346.7 L305.6 346.9 L306.1 346.8 L306.6 347.0 L307.1 347.2 L307.6 347.3 L308.1 347.4 L308.6 347.4 L309.1 347.6 L309.6 347.9 L310.1 347.7 L310.6 347.7 L311.1 347.7 L311.6 347.7 L312.1 347.7 L312.6 347.5 L313.1 347.6 L313.6 347.7 L314.1 347.7 L314.6 347.9 L315.1 347.8 L315.6 347.7 L316.1 347.8 L316.6 347.7 L317.1 347.7 L317.6 347.8 L318.1 347.7 L318.6 347.9 L319.1 348.0 L319.6 348.0" fill="none" stroke="#1f9a1f" stroke-width="1.2" stroke-linejoin="round"/>
<path d="M120.2 225.0 L120.3 230.7 L120.3 235.8 L120.4 240.4 L120.4 244.5 L120.5 248.2 L120.5 251.5 L120.6 254.7 L120.6 257.6 L120.7 260.4 L120.7 262.8 L120.8 264.9 L120.8 266.7 L120.9 268.1 L121.0 269.3 L121.0 270.2 L121.1 271.1 L121.1 271.9 L121.2 272.6 L121.2 273.3 L121.3 273.9 L121.3 274.6 L121.4 275.3 L121.4 276.0 L121.5 276.7 L121.6 277.9 L122.1 283.5 L122.6 288.5 L123.1 293.6 L123.6 298.0 L124.1 301.2 L124.6 303.8 L125.1 306.1 L125.6 308.1 L126.1 309.9 L126.6 311.5 L127.1 313.1 L127.6 314.6 L128.1 315.9 L128.6 316.7 L129.1 317.7 L129.6 318.7 L130.1 319.4 L130.6 320.5 L131.1 321.4 L131.6 322.2 L132.1 323.1 L132.6 323.8 L133.1 324.6 L133.6 325.5 L134.1 326.0 L134.6 326.6 L135.1 327.3 L135.6 327.9 L136.1 328.5 L136.6 329.2 L137.1 329.6 L137.6 330.2 L138.1 330.6 L138.6 330.8 L139.1 331.5 L139.6 331.9 L140.1 331.9 L140.6 332.3 L141.1 332.7 L141.6 333.3 L142.1 333.7 L142.6 334.0 L143.1 334.3 L143.6 334.8 L144.1 335.4 L144.6 335.8 L145.1 336.0 L145.6 336.4 L146.1 336.7 L146.6 336.9 L147.1 337.2 L147.6 337.5 L148.1 337.8 L148.6 338.1 L149.1 338.4 L149.6 338.6 L150.1 339.0 L150.6 339.2 L151.1 339.4 L151.6 339.6 L152.1 339.7 L152.6 339.9 L153.1 339.9 L153.6 340.2 L154.1 340.4 L154.6 340.6 L155.1 340.6 L155.6 340.9 L156.1 341.2 L156.6 341.7 L157.1 341.7 L157.6 342.0 L158.1 342.2 L158.6 342.4 L159.1 342.6 L159.6 342.7 L160.1 342.8 L160.6 343.0 L161.1 343.1 L161.6 343.3 L162.1 343.6 L162.6 343.6 L163.1 343.8 L163.6 344.0 L164.1 344.4 L164.6 344.5 L165.1 344.9 L165.6 345.1 L166.1 345.2 L166.6 345.5 L167.1 345.5 L167.6 345.6 L168.1 345.9 L168.6 345.9 L169.1 346.0 L169.6 346.6 L170.1 346.7 L170.6 347.0 L171.1 347.2 L171.6 347.2 L172.1 347.4 L172.6 347.6 L173.1 347.3 L173.6 347.5 L174.1 347.5 L174.6 347.5 L175.1 347.7 L175.6 347.9 L176.1 347.9 L176.6 348.3 L177.1 348.2 L177.6 348.4 L178.1 348.5 L178.6 348.5 L179.1 348.6 L179.6 348.9 L180.1 349.1 L180.6 349.4 L181.1 349.6 L181.6 349.9 L182.1 350.1 L182.6 350.3 L183.1 350.5 L183.6 350.6 L184.1 350.6 L184.6 350.8 L185.1 351.0 L185.6 351.2 L186.1 351.1 L186.6 351.2 L187.1 351.2 L187.6 351.4 L188.1 351.6 L188.6 351.7 L189.1 351.9 L189.6 351.9 L190.1 352.2 L190.6 352.5 L191.1 352.4 L191.6 352.6 L192.1 352.6 L192.6 352.9 L193.1 353.0 L193.6 352.9 L194.1 353.1 L194.6 353.2 L195.1 353.1 L195.6 353.1 L196.1 352.9 L196.6 352.9 L197.1 353.2 L197.6 353.3 L198.1 353.7 L198.6 353.9 L199.1 354.1 L199.6 354.5 L200.1 354.9 L200.6 355.1 L201.1 355.0 L201.6 355.1 L202.1 355.0 L202.6 355.2 L203.1 355.2 L203.6 355.1 L204.1 355.1 L204.6 355.5 L205.1 355.6 L205.6 355.9 L206.1 355.9 L206.6 355.9 L207.1 356.0 L207.6 356.1 L208.1 356.2 L208.6 356.3 L209.1 356.4 L209.6 356.4 L210.1 356.7 L210.6 356.8 L211.1 356.7 L211.6 356.5 L212.1 356.5 L212.6 356.5 L213.1 356.9 L213.6 357.0 L214.1 357.0 L214.6 357.3 L215.1 357.7 L215.6 357.7 L216.1 358.0 L216.6 358.0 L217.1 358.2 L217.6 358.5 L218.1 358.6 L218.6 358.6 L219.1 358.8 L219.6 358.9 L220.1 358.9 L220.6 359.1 L221.1 359.1 L221.6 359.3 L222.1 359.2 L222.6 359.3 L223.1 359.3 L223.6 359.4 L224.1 359.4 L224.6 359.5 L225.1 359.4 L225.6 359.7 L226.1 359.7 L226.6 359.7 L227.1 359.9 L227.6 360.0 L228.1 359.9 L228.6 360.0 L229.1 360.0 L229.6 360.2 L230.1 360.3 L230.6 360.5 L231.1 360.4 L231.6 360.7 L232.1 360.8 L232.6 360.8 L233.1 360.9 L233.6 361.1 L234.1 361.0 L234.6 361.3 L235.1 361.4 L235.6 361.4 L236.1 361.7 L236.6 361.7 L237.1 361.7 L237.6 361.8 L238.1 361.6 L238.6 361.8 L239.1 361.9 L239.6 361.7 L240.1 361.8 L240.6 361.8 L241.1 362.1 L241.6 362.2 L242.1 362.3 L242.6 362.4 L243.1 362.4 L243.6 362.3 L244.1 362.5 L244.6 362.6 L245.1 362.6 L245.6 362.7 L246.1 362.5 L246.6 362.5 L247.1 362.8 L247.6 362.5 L248.1 362.6 L248.6 362.5 L249.1 362.6 L249.6 363.0 L250.1 363.4 L250.6 363.4 L251.1 363.7 L251.6 363.5 L252.1 363.6 L252.6 363.7 L253.1 363.7 L253.6 363.5 L254.1 363.6 L254.6 363.5 L255.1 363.6 L255.6 363.7 L256.1 363.8 L256.6 363.7 L257.1 363.9 L257.6 364.0 L258.1 363.9 L258.6 364.2 L259.1 364.5 L259.6 364.5 L260.1 364.7 L260.6 364.7 L261.1 364.6 L261.6 364.6 L262.1 364.4 L262.6 364.2 L263.1 364.2 L263.6 364.2 L264.1 364.3 L264.6 364.4 L265.1 364.4 L265.6 364.5 L266.1 364.5 L266.6 364.3 L267.1 364.2 L267.6 364.3 L268.1 364.2 L268.6 364.3 L269.1 364.3 L269.6 364.4 L270.1 364.5 L270.6 364.6 L271.1 364.5 L271.6 364.6 L272.1 364.7 L272.6 365.0 L273.1 365.2 L273.6 365.3 L274.1 365.2 L274.6 365.2 L275.1 365.2 L275.6 365.3 L276.1 365.4 L276.6 365.0 L277.1 364.9 L277.6 365.0 L278.1 365.1 L278.6 365.2 L279.1 365.0 L279.6 364.8 L280.1 365.1 L280.6 365.1 L281.1 365.0 L281.6 365.1 L282.1 365.2 L282.6 365.0 L283.1 365.1 L283.6 365.2 L284.1 365.4 L284.6 365.6 L285.1 365.6 L285.6 365.6 L286.1 365.9 L286.6 366.2 L287.1 366.2 L287.6 366.4 L288.1 366.3 L288.6 366.4 L289.1 366.6 L289.6 366.5 L290.1 366.5 L290.6 366.5 L291.1 366.6 L291.6 366.8 L292.1 366.8 L292.6 366.8 L293.1 366.8 L293.6 366.7 L294.1 366.7 L294.6 366.5 L295.1 366.2 L295.6 366.2 L296.1 365.9 L296.6 365.9 L297.1 366.0 L297.6 366.1 L298.1 366.0 L298.6 366.1 L299.1 366.0 L299.6 366.2 L300.1 366.2 L300.6 366.1 L301.1 366.2 L301.6 366.1 L302.1 366.2 L302.6 366.1 L303.1 366.2 L303.6 366.2 L304.1 366.1 L304.6 366.0 L305.1 365.9 L305.6 365.8 L306.1 366.3 L306.6 366.3 L307.1 366.5 L307.6 366.6 L308.1 366.7 L308.6 366.8 L309.1 367.1 L309.6 366.9 L310.1 366.9 L310.6 366.8 L311.1 366.7 L311.6 366.4 L312.1 366.1 L312.6 366.1 L313.1 366.2 L313.6 366.1 L314.1 366.1 L314.6 366.3 L315.1 366.4 L315.6 366.8 L316.1 366.5 L316.6 366.3 L317.1 366.1 L317.6 366.2 L318.1 366.2 L318.6 366.3 L319.1 366.1 L319.6 366.2" fill="none" stroke="#1a1aff" stroke-width="1.2" stroke-linejoin="round"/>
<line x1="248.1" y1="222.6" x2="260.7" y2="222.6" stroke="#e8262a" stroke-width="1.3"/>
<text x="264" y="225.9" font-size="10" text-anchor="start">Chr11</text>
<line x1="248.1" y1="237.3" x2="260.7" y2="237.3" stroke="#111111" stroke-width="1.3"/>
<text x="264" y="240.60000000000002" font-size="10" text-anchor="start">Chr15</text>
<line x1="248.1" y1="250.2" x2="260.7" y2="250.2" stroke="#1a1aff" stroke-width="1.3"/>
<text x="264" y="253.5" font-size="10" text-anchor="start">Chr21</text>
<line x1="248.1" y1="263.0" x2="260.7" y2="263.0" stroke="#1f9a1f" stroke-width="1.3"/>
<text x="264" y="266.3" font-size="10" text-anchor="start">Cenome</text>
</svg></body></html>
